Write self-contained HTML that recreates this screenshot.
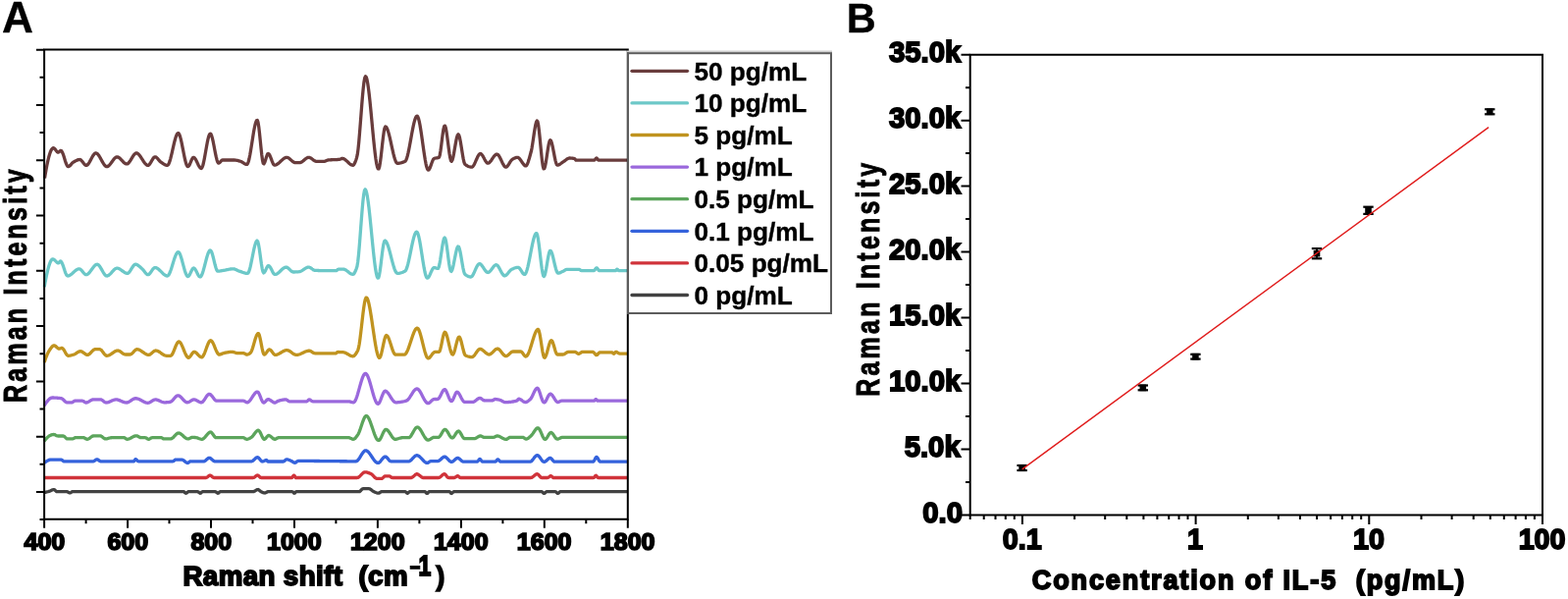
<!DOCTYPE html>
<html><head><meta charset="utf-8"><title>Raman spectra and calibration curve</title>
<style>
html,body{margin:0;padding:0;background:#fff;}
body{width:1598px;height:610px;overflow:hidden;}
svg{display:block;}
text{font-family:'Liberation Sans', Arial, Helvetica, sans-serif;font-weight:bold;fill:#000;white-space:pre;stroke:#000;}
</style></head><body>
<svg width="1598" height="610" viewBox="0 0 1598 610">
<rect x="0" y="0" width="1598" height="610" fill="#fff"/>
<g fill="none" stroke-width="3.3" stroke-linejoin="round" stroke-linecap="butt">
<polyline stroke="#424242" points="45.50,501.50 46.25,501.33 47.00,501.15 47.75,500.96 48.50,500.75 49.25,500.54 50.00,500.31 50.75,500.08 51.50,499.81 52.25,499.46 53.00,499.09 53.75,498.76 54.50,498.55 55.25,498.54 56.00,499.07 56.75,499.87 57.50,500.54 58.25,500.70 59.00,500.70 59.75,500.70 60.50,500.70 61.25,500.70 62.00,500.70 62.75,500.70 63.50,500.70 64.25,500.70 65.00,500.70 65.75,500.70 66.50,500.70 67.25,500.70 68.00,500.70 68.75,500.86 69.50,501.22 70.25,501.61 71.00,501.87 71.75,501.81 72.50,501.40 73.25,500.93 74.00,500.70 74.75,500.70 75.50,500.70 76.25,500.70 77.00,500.70 77.75,500.70 78.50,500.70 79.25,500.70 80.00,500.70 80.75,500.70 81.50,500.70 82.25,500.70 83.00,500.70 83.75,500.70 84.50,500.70 85.25,500.70 86.00,500.70 86.75,500.70 87.50,500.70 88.25,500.70 89.00,500.70 89.75,500.70 90.50,500.70 91.25,500.70 92.00,500.70 92.75,500.70 93.50,500.70 94.25,500.70 95.00,500.70 95.75,500.70 96.50,500.70 97.25,500.70 98.00,500.70 98.75,500.70 99.50,500.70 100.25,500.70 101.00,500.70 101.75,500.70 102.50,500.70 103.25,500.70 104.00,500.70 104.75,500.70 105.50,500.70 106.25,500.70 107.00,500.70 107.75,500.70 108.50,500.70 109.25,500.70 110.00,500.70 110.75,500.70 111.50,500.70 112.25,500.70 113.00,500.70 113.75,500.70 114.50,500.70 115.25,500.70 116.00,500.70 116.75,500.70 117.50,500.70 118.25,500.70 119.00,500.70 119.75,500.70 120.50,500.70 121.25,500.70 122.00,500.70 122.75,500.70 123.50,500.70 124.25,500.70 125.00,500.70 125.75,500.70 126.50,500.70 127.25,500.70 128.00,500.70 128.75,500.70 129.50,500.70 130.25,500.70 131.00,500.70 131.75,500.70 132.50,500.70 133.25,500.70 134.00,500.70 134.75,500.70 135.50,500.70 136.25,500.70 137.00,500.70 137.75,500.70 138.50,500.70 139.25,500.70 140.00,500.70 140.75,500.70 141.50,500.70 142.25,500.70 143.00,500.70 143.75,500.70 144.50,500.70 145.25,500.70 146.00,500.70 146.75,500.70 147.50,500.70 148.25,500.70 149.00,500.70 149.75,500.70 150.50,500.70 151.25,500.70 152.00,500.70 152.75,500.70 153.50,500.70 154.25,500.70 155.00,500.70 155.75,500.70 156.50,500.70 157.25,500.70 158.00,500.70 158.75,500.70 159.50,500.70 160.25,500.70 161.00,500.70 161.75,500.70 162.50,500.70 163.25,500.70 164.00,500.70 164.75,500.70 165.50,500.70 166.25,500.70 167.00,500.70 167.75,500.70 168.50,500.70 169.25,500.70 170.00,500.70 170.75,500.70 171.50,500.70 172.25,500.70 173.00,500.70 173.75,500.70 174.50,500.70 175.25,500.70 176.00,500.70 176.75,500.70 177.50,500.70 178.25,500.70 179.00,500.70 179.75,500.70 180.50,500.70 181.25,500.70 182.00,500.70 182.75,500.70 183.50,500.70 184.25,500.70 185.00,500.70 185.75,500.70 186.50,500.70 187.25,500.74 188.00,501.23 188.75,501.90 189.50,502.29 190.25,502.01 191.00,501.30 191.75,500.75 192.50,500.70 193.25,500.70 194.00,500.70 194.75,500.70 195.50,500.70 196.25,500.70 197.00,500.70 197.75,500.70 198.50,500.70 199.25,500.70 200.00,500.70 200.75,500.70 201.50,500.70 202.25,501.05 203.00,501.74 203.75,502.26 204.50,502.13 205.25,501.50 206.00,500.87 206.75,500.70 207.50,500.70 208.25,500.70 209.00,500.70 209.75,500.70 210.50,500.70 211.25,500.70 212.00,500.70 212.75,500.70 213.50,500.70 214.25,500.70 215.00,500.70 215.75,500.70 216.50,500.70 217.25,500.70 218.00,500.70 218.75,500.70 219.50,500.70 220.25,501.05 221.00,501.74 221.75,502.26 222.50,502.13 223.25,501.50 224.00,500.87 224.75,500.70 225.50,500.70 226.25,500.70 227.00,500.70 227.75,500.70 228.50,500.70 229.25,500.70 230.00,500.70 230.75,500.70 231.50,500.70 232.25,500.70 233.00,500.70 233.75,500.70 234.50,500.70 235.25,500.70 236.00,500.70 236.75,500.70 237.50,500.70 238.25,500.70 239.00,500.70 239.75,500.70 240.50,500.70 241.25,500.70 242.00,500.70 242.75,500.70 243.50,500.70 244.25,500.70 245.00,500.70 245.75,500.70 246.50,500.70 247.25,500.70 248.00,500.70 248.75,500.70 249.50,500.70 250.25,500.70 251.00,500.70 251.75,500.70 252.50,500.70 253.25,500.70 254.00,500.70 254.75,500.70 255.50,500.70 256.25,500.70 257.00,500.70 257.75,500.70 258.50,500.63 259.25,500.33 260.00,499.87 260.75,499.36 261.50,498.90 262.25,498.58 263.00,498.52 263.75,498.88 264.50,499.51 265.25,500.20 266.00,500.70 266.75,501.04 267.50,501.37 268.25,501.66 269.00,501.88 269.75,501.99 270.50,501.90 271.25,501.51 272.00,501.04 272.75,500.73 273.50,500.70 274.25,500.70 275.00,500.70 275.75,500.70 276.50,500.70 277.25,500.70 278.00,500.70 278.75,500.70 279.50,500.70 280.25,500.70 281.00,500.70 281.75,500.70 282.50,500.70 283.25,500.70 284.00,500.70 284.75,500.70 285.50,500.70 286.25,500.70 287.00,500.70 287.75,500.70 288.50,500.70 289.25,500.70 290.00,500.70 290.75,500.70 291.50,500.70 292.25,500.70 293.00,500.70 293.75,500.70 294.50,500.70 295.25,500.70 296.00,500.70 296.75,500.70 297.50,500.70 298.25,500.77 299.00,501.50 299.75,502.23 300.50,502.05 301.25,501.21 302.00,500.70 302.75,500.70 303.50,500.70 304.25,500.70 305.00,500.70 305.75,500.70 306.50,500.70 307.25,500.70 308.00,500.70 308.75,500.70 309.50,500.70 310.25,500.70 311.00,500.70 311.75,500.70 312.50,500.70 313.25,500.70 314.00,500.70 314.75,500.70 315.50,500.70 316.25,500.70 317.00,500.70 317.75,500.70 318.50,500.70 319.25,500.70 320.00,500.70 320.75,500.70 321.50,500.70 322.25,500.70 323.00,500.70 323.75,500.70 324.50,500.70 325.25,500.70 326.00,500.70 326.75,500.70 327.50,500.70 328.25,500.70 329.00,500.70 329.75,500.70 330.50,500.70 331.25,500.70 332.00,500.70 332.75,500.70 333.50,500.70 334.25,500.70 335.00,500.70 335.75,500.70 336.50,500.70 337.25,500.70 338.00,500.70 338.75,500.70 339.50,500.70 340.25,500.70 341.00,500.70 341.75,500.70 342.50,500.70 343.25,500.70 344.00,500.70 344.75,500.70 345.50,500.70 346.25,500.70 347.00,500.70 347.75,500.70 348.50,500.70 349.25,500.70 350.00,500.70 350.75,500.70 351.50,500.70 352.25,500.70 353.00,500.70 353.75,500.70 354.50,500.70 355.25,500.70 356.00,500.70 356.75,500.70 357.50,500.70 358.25,500.70 359.00,500.70 359.75,500.70 360.50,500.70 361.25,500.70 362.00,500.70 362.75,500.70 363.50,500.70 364.25,500.70 365.00,500.70 365.75,500.70 366.50,500.57 367.25,500.00 368.00,499.20 368.75,498.40 369.50,497.83 370.25,497.70 371.00,497.70 371.75,497.70 372.50,497.70 373.25,497.70 374.00,497.70 374.75,497.70 375.50,497.70 376.25,497.72 377.00,497.95 377.75,498.38 378.50,498.94 379.25,499.55 380.00,500.13 380.75,500.59 381.50,500.91 382.25,501.23 383.00,501.54 383.75,501.82 384.50,502.03 385.25,502.17 386.00,502.18 386.75,501.88 387.50,501.38 388.25,500.91 389.00,500.70 389.75,500.70 390.50,500.70 391.25,500.70 392.00,500.70 392.75,500.70 393.50,500.70 394.25,500.70 395.00,500.70 395.75,500.70 396.50,500.70 397.25,500.70 398.00,500.70 398.75,500.70 399.50,500.70 400.25,500.70 401.00,500.70 401.75,500.70 402.50,500.70 403.25,500.70 404.00,500.70 404.75,500.70 405.50,500.70 406.25,500.70 407.00,500.70 407.75,500.70 408.50,500.70 409.25,500.70 410.00,500.70 410.75,500.70 411.50,500.70 412.25,500.70 413.00,500.70 413.75,501.13 414.50,501.92 415.25,502.30 416.00,501.85 416.75,501.10 417.50,500.70 418.25,500.70 419.00,500.70 419.75,500.70 420.50,500.70 421.25,500.70 422.00,500.70 422.75,500.70 423.50,500.70 424.25,500.70 425.00,500.70 425.75,500.70 426.50,500.70 427.25,500.70 428.00,500.70 428.75,500.70 429.50,500.70 430.25,500.70 431.00,500.70 431.75,500.70 432.50,500.70 433.25,500.76 434.00,501.48 434.75,502.30 435.50,502.42 436.25,501.72 437.00,500.92 437.75,500.70 438.50,500.70 439.25,500.70 440.00,500.70 440.75,500.70 441.50,500.70 442.25,500.70 443.00,500.70 443.75,500.70 444.50,500.70 445.25,500.70 446.00,500.70 446.75,500.70 447.50,500.70 448.25,500.70 449.00,500.70 449.75,500.70 450.50,500.70 451.25,500.70 452.00,500.70 452.75,500.70 453.50,500.70 454.25,500.70 455.00,500.70 455.75,500.70 456.50,500.70 457.25,500.70 458.00,500.70 458.75,501.22 459.50,502.14 460.25,502.48 461.00,501.93 461.75,501.12 462.50,500.70 463.25,500.70 464.00,500.70 464.75,500.70 465.50,500.70 466.25,500.70 467.00,500.70 467.75,500.70 468.50,500.70 469.25,500.70 470.00,500.70 470.75,500.70 471.50,500.70 472.25,500.70 473.00,500.70 473.75,500.70 474.50,500.70 475.25,500.70 476.00,500.70 476.75,500.70 477.50,500.70 478.25,500.70 479.00,500.70 479.75,500.70 480.50,500.70 481.25,500.70 482.00,500.70 482.75,500.70 483.50,500.70 484.25,500.70 485.00,500.70 485.75,500.70 486.50,500.70 487.25,500.70 488.00,500.70 488.75,500.70 489.50,500.70 490.25,500.70 491.00,500.70 491.75,500.70 492.50,500.70 493.25,500.70 494.00,500.70 494.75,500.70 495.50,500.70 496.25,500.70 497.00,500.70 497.75,500.70 498.50,500.70 499.25,500.70 500.00,500.70 500.75,500.70 501.50,500.70 502.25,500.70 503.00,500.70 503.75,500.70 504.50,500.70 505.25,500.70 506.00,500.70 506.75,500.70 507.50,500.70 508.25,500.70 509.00,500.70 509.75,500.70 510.50,500.70 511.25,500.70 512.00,500.70 512.75,500.70 513.50,500.70 514.25,500.70 515.00,500.70 515.75,500.70 516.50,500.70 517.25,500.70 518.00,500.70 518.75,500.70 519.50,500.70 520.25,500.70 521.00,500.70 521.75,500.70 522.50,500.70 523.25,500.70 524.00,500.70 524.75,500.70 525.50,500.70 526.25,500.70 527.00,500.70 527.75,500.70 528.50,500.70 529.25,500.70 530.00,500.70 530.75,500.70 531.50,500.70 532.25,500.70 533.00,500.70 533.75,500.70 534.50,500.70 535.25,500.70 536.00,500.70 536.75,500.70 537.50,500.70 538.25,500.70 539.00,500.70 539.75,500.70 540.50,500.70 541.25,500.70 542.00,500.70 542.75,500.70 543.50,500.70 544.25,500.70 545.00,500.70 545.75,500.70 546.50,500.70 547.25,500.70 548.00,500.70 548.75,500.70 549.50,500.70 550.25,500.70 551.00,500.70 551.75,500.70 552.50,500.89 553.25,501.60 554.00,502.31 554.75,502.45 555.50,501.87 556.25,501.09 557.00,500.70 557.75,500.70 558.50,500.70 559.25,500.70 560.00,500.70 560.75,500.70 561.50,500.70 562.25,500.70 563.00,500.70 563.75,500.70 564.50,500.70 565.25,500.70 566.00,500.70 566.75,501.06 567.50,501.81 568.25,502.41 569.00,502.37 569.75,501.66 570.50,500.90 571.25,500.70 572.00,500.70 572.75,500.70 573.50,500.70 574.25,500.70 575.00,500.70 575.75,500.70 576.50,500.70 577.25,500.70 578.00,500.70 578.75,500.70 579.50,500.70 580.25,500.70 581.00,500.70 581.75,500.70 582.50,500.70 583.25,500.70 584.00,500.70 584.75,500.70 585.50,500.70 586.25,500.70 587.00,500.70 587.75,500.70 588.50,500.70 589.25,500.70 590.00,500.70 590.75,500.70 591.50,500.70 592.25,500.70 593.00,500.70 593.75,500.70 594.50,500.70 595.25,500.70 596.00,500.70 596.75,500.70 597.50,500.70 598.25,500.70 599.00,500.70 599.75,500.70 600.50,500.70 601.25,500.70 602.00,500.70 602.75,500.70 603.50,500.70 604.25,500.70 605.00,500.70 605.75,500.70 606.50,500.70 607.25,500.70 608.00,500.70 608.75,500.70 609.50,500.70 610.25,500.70 611.00,500.70 611.75,500.70 612.50,500.70 613.25,500.70 614.00,500.70 614.75,500.70 615.50,500.70 616.25,500.70 617.00,500.70 617.75,500.70 618.50,500.70 619.25,500.70 620.00,500.70 620.75,500.70 621.50,500.70 622.25,500.70 623.00,500.70 623.75,500.70 624.50,500.70 625.25,500.70 626.00,500.70 626.75,500.70 627.50,500.70 628.25,500.70 629.00,500.70 629.75,500.70 630.50,500.70 631.25,500.70 632.00,500.70 632.75,500.70 633.50,500.70 634.25,500.70 635.00,500.70 635.75,500.70 636.50,500.70 637.25,500.70 638.00,500.70 638.75,500.70 639.50,500.70"/>
<polyline stroke="#d0333a" points="45.00,486.50 45.75,486.50 46.50,486.50 47.25,486.50 48.00,486.50 48.75,486.50 49.50,486.50 50.25,486.50 51.00,486.50 51.75,486.50 52.50,486.50 53.25,486.50 54.00,486.50 54.75,486.50 55.50,486.50 56.25,486.50 57.00,486.50 57.75,486.50 58.50,486.50 59.25,486.50 60.00,486.50 60.75,486.50 61.50,486.50 62.25,486.50 63.00,486.50 63.75,486.50 64.50,486.50 65.25,486.50 66.00,486.50 66.75,486.50 67.50,486.50 68.25,486.50 69.00,486.50 69.75,486.50 70.50,486.50 71.25,486.50 72.00,486.50 72.75,486.50 73.50,486.50 74.25,486.50 75.00,486.50 75.75,486.50 76.50,486.50 77.25,486.50 78.00,486.50 78.75,486.50 79.50,486.50 80.25,486.50 81.00,486.50 81.75,486.50 82.50,486.50 83.25,486.50 84.00,486.50 84.75,486.50 85.50,486.50 86.25,486.50 87.00,486.50 87.75,486.50 88.50,486.50 89.25,486.50 90.00,486.50 90.75,486.50 91.50,486.50 92.25,486.50 93.00,486.50 93.75,486.50 94.50,486.50 95.25,486.50 96.00,486.50 96.75,486.50 97.50,486.50 98.25,486.50 99.00,486.50 99.75,486.50 100.50,486.50 101.25,486.50 102.00,486.50 102.75,486.50 103.50,486.50 104.25,486.50 105.00,486.50 105.75,486.50 106.50,486.50 107.25,486.50 108.00,486.50 108.75,486.50 109.50,486.50 110.25,486.50 111.00,486.50 111.75,486.50 112.50,486.50 113.25,486.50 114.00,486.50 114.75,486.50 115.50,486.50 116.25,486.50 117.00,486.50 117.75,486.50 118.50,486.50 119.25,486.50 120.00,486.50 120.75,486.50 121.50,486.50 122.25,486.50 123.00,486.50 123.75,486.50 124.50,486.50 125.25,486.50 126.00,486.50 126.75,486.50 127.50,486.50 128.25,486.50 129.00,486.50 129.75,486.50 130.50,486.50 131.25,486.50 132.00,486.50 132.75,486.50 133.50,486.50 134.25,486.50 135.00,486.50 135.75,486.50 136.50,486.50 137.25,486.50 138.00,486.50 138.75,486.50 139.50,486.50 140.25,486.50 141.00,486.50 141.75,486.50 142.50,486.50 143.25,486.50 144.00,486.50 144.75,486.50 145.50,486.50 146.25,486.50 147.00,486.50 147.75,486.50 148.50,486.50 149.25,486.50 150.00,486.50 150.75,486.50 151.50,486.50 152.25,486.50 153.00,486.50 153.75,486.50 154.50,486.50 155.25,486.50 156.00,486.50 156.75,486.50 157.50,486.50 158.25,486.50 159.00,486.50 159.75,486.50 160.50,486.50 161.25,486.50 162.00,486.50 162.75,486.50 163.50,486.50 164.25,486.50 165.00,486.50 165.75,486.50 166.50,486.50 167.25,486.50 168.00,486.50 168.75,486.50 169.50,486.50 170.25,486.50 171.00,486.50 171.75,486.50 172.50,486.50 173.25,486.50 174.00,486.50 174.75,486.50 175.50,486.50 176.25,486.50 177.00,486.50 177.75,486.50 178.50,486.50 179.25,486.50 180.00,486.50 180.75,486.50 181.50,486.50 182.25,486.50 183.00,486.50 183.75,486.50 184.50,486.50 185.25,486.50 186.00,486.50 186.75,486.50 187.50,486.50 188.25,486.50 189.00,486.50 189.75,486.50 190.50,486.50 191.25,486.50 192.00,486.50 192.75,486.50 193.50,486.50 194.25,486.50 195.00,486.50 195.75,486.50 196.50,486.50 197.25,486.50 198.00,486.50 198.75,486.50 199.50,486.50 200.25,486.50 201.00,486.50 201.75,486.50 202.50,486.50 203.25,486.50 204.00,486.50 204.75,486.50 205.50,486.50 206.25,486.50 207.00,486.50 207.75,486.50 208.50,486.50 209.25,486.50 210.00,486.50 210.75,486.27 211.50,485.71 212.25,485.02 213.00,484.39 213.75,484.03 214.50,484.11 215.25,484.58 216.00,485.25 216.75,485.92 217.50,486.39 218.25,486.50 219.00,486.50 219.75,486.50 220.50,486.50 221.25,486.50 222.00,486.50 222.75,486.50 223.50,486.50 224.25,486.50 225.00,486.50 225.75,486.50 226.50,486.50 227.25,486.50 228.00,486.50 228.75,486.50 229.50,486.50 230.25,486.50 231.00,486.50 231.75,486.50 232.50,486.50 233.25,486.50 234.00,486.50 234.75,486.50 235.50,486.50 236.25,486.50 237.00,486.50 237.75,486.50 238.50,486.50 239.25,486.50 240.00,486.50 240.75,486.50 241.50,486.50 242.25,486.50 243.00,486.50 243.75,486.50 244.50,486.50 245.25,486.50 246.00,486.50 246.75,486.50 247.50,486.50 248.25,486.50 249.00,486.50 249.75,486.50 250.50,486.50 251.25,486.50 252.00,486.50 252.75,486.50 253.50,486.50 254.25,486.50 255.00,486.50 255.75,486.50 256.50,486.50 257.25,486.50 258.00,486.50 258.75,486.31 259.50,485.85 260.25,485.25 261.00,484.65 261.75,484.19 262.50,484.00 263.25,484.30 264.00,484.98 264.75,485.77 265.50,486.36 266.25,486.50 267.00,486.50 267.75,486.50 268.50,486.50 269.25,486.50 270.00,486.50 270.75,486.50 271.50,486.50 272.25,486.50 273.00,486.50 273.75,486.50 274.50,486.50 275.25,486.50 276.00,486.50 276.75,486.50 277.50,486.50 278.25,486.50 279.00,486.50 279.75,486.50 280.50,486.50 281.25,486.50 282.00,486.50 282.75,486.50 283.50,486.50 284.25,486.50 285.00,486.50 285.75,486.50 286.50,486.50 287.25,486.50 288.00,486.50 288.75,486.50 289.50,486.50 290.25,486.50 291.00,486.50 291.75,486.50 292.50,486.50 293.25,486.50 294.00,486.50 294.75,486.50 295.50,486.50 296.25,486.50 297.00,486.50 297.75,486.39 298.50,485.25 299.25,484.11 300.00,484.39 300.75,485.71 301.50,486.50 302.25,486.50 303.00,486.50 303.75,486.50 304.50,486.50 305.25,486.50 306.00,486.50 306.75,486.50 307.50,486.50 308.25,486.50 309.00,486.50 309.75,486.50 310.50,486.50 311.25,486.50 312.00,486.50 312.75,486.50 313.50,486.50 314.25,486.50 315.00,486.50 315.75,486.50 316.50,486.50 317.25,486.50 318.00,486.50 318.75,486.50 319.50,486.50 320.25,486.50 321.00,486.50 321.75,486.50 322.50,486.50 323.25,486.50 324.00,486.50 324.75,486.50 325.50,486.50 326.25,486.50 327.00,486.50 327.75,486.50 328.50,486.50 329.25,486.50 330.00,486.50 330.75,486.50 331.50,486.50 332.25,486.50 333.00,486.50 333.75,486.50 334.50,486.50 335.25,486.50 336.00,486.50 336.75,486.50 337.50,486.50 338.25,486.50 339.00,486.50 339.75,486.50 340.50,486.50 341.25,486.50 342.00,486.50 342.75,486.50 343.50,486.50 344.25,486.50 345.00,486.50 345.75,486.50 346.50,486.50 347.25,486.50 348.00,486.50 348.75,486.50 349.50,486.50 350.25,486.50 351.00,486.50 351.75,486.50 352.50,486.50 353.25,486.50 354.00,486.50 354.75,486.50 355.50,486.50 356.25,486.50 357.00,486.50 357.75,486.50 358.50,486.50 359.25,486.50 360.00,486.50 360.75,486.50 361.50,486.50 362.25,486.50 363.00,486.50 363.75,486.50 364.50,486.44 365.25,486.13 366.00,485.61 366.75,484.94 367.50,484.18 368.25,483.38 369.00,482.60 369.75,481.90 370.50,481.33 371.25,480.94 372.00,480.80 372.75,480.84 373.50,480.95 374.25,481.12 375.00,481.34 375.75,481.59 376.50,481.88 377.25,482.19 378.00,482.50 378.75,482.95 379.50,483.60 380.25,484.39 381.00,485.21 381.75,486.00 382.50,486.67 383.25,487.13 384.00,487.30 384.75,487.30 385.50,487.30 386.25,487.30 387.00,487.30 387.75,487.30 388.50,487.30 389.25,487.27 390.00,486.85 390.75,486.15 391.50,485.42 392.25,484.90 393.00,484.80 393.75,484.80 394.50,484.80 395.25,484.80 396.00,484.80 396.75,484.80 397.50,484.98 398.25,485.65 399.00,486.32 399.75,486.50 400.50,486.50 401.25,486.50 402.00,486.50 402.75,486.50 403.50,486.50 404.25,486.50 405.00,486.50 405.75,486.50 406.50,486.50 407.25,486.50 408.00,486.50 408.75,486.50 409.50,486.50 410.25,486.50 411.00,486.50 411.75,486.50 412.50,486.50 413.25,486.50 414.00,486.50 414.75,486.50 415.50,486.50 416.25,486.50 417.00,486.50 417.75,486.50 418.50,486.50 419.25,486.48 420.00,486.22 420.75,485.72 421.50,485.07 422.25,484.36 423.00,483.69 423.75,483.13 424.50,482.77 425.25,482.72 426.00,483.03 426.75,483.55 427.50,484.15 428.25,484.67 429.00,485.30 429.75,485.94 430.50,486.40 431.25,486.50 432.00,486.50 432.75,486.50 433.50,486.50 434.25,486.50 435.00,486.50 435.75,486.50 436.50,486.50 437.25,486.50 438.00,486.50 438.75,486.50 439.50,486.50 440.25,486.50 441.00,486.50 441.75,486.50 442.50,486.50 443.25,486.50 444.00,486.50 444.75,486.50 445.50,486.50 446.25,486.50 447.00,486.50 447.75,486.34 448.50,485.91 449.25,485.30 450.00,484.60 450.75,483.90 451.50,483.29 452.25,482.86 453.00,482.70 453.75,483.05 454.50,483.90 455.25,484.95 456.00,485.91 456.75,486.46 457.50,486.50 458.25,486.50 459.00,486.50 459.75,486.50 460.50,486.50 461.25,486.50 462.00,486.50 462.75,486.50 463.50,486.39 464.25,485.95 465.00,485.35 465.75,484.82 466.50,484.60 467.25,485.01 468.00,485.83 468.75,486.45 469.50,486.50 470.25,486.50 471.00,486.50 471.75,486.50 472.50,486.50 473.25,486.50 474.00,486.50 474.75,486.50 475.50,486.50 476.25,486.50 477.00,486.50 477.75,486.50 478.50,486.50 479.25,486.50 480.00,486.50 480.75,486.50 481.50,486.50 482.25,486.50 483.00,486.50 483.75,486.50 484.50,486.50 485.25,486.50 486.00,486.50 486.75,486.50 487.50,486.50 488.25,486.50 489.00,486.50 489.75,486.50 490.50,486.50 491.25,486.50 492.00,486.50 492.75,486.50 493.50,486.50 494.25,486.50 495.00,486.50 495.75,486.50 496.50,486.50 497.25,486.50 498.00,486.50 498.75,486.50 499.50,486.50 500.25,486.50 501.00,486.50 501.75,486.50 502.50,486.50 503.25,486.50 504.00,486.50 504.75,486.50 505.50,486.50 506.25,486.50 507.00,486.50 507.75,486.50 508.50,486.50 509.25,486.50 510.00,486.50 510.75,486.50 511.50,486.50 512.25,486.50 513.00,486.50 513.75,486.50 514.50,486.50 515.25,486.50 516.00,486.50 516.75,486.50 517.50,486.50 518.25,486.50 519.00,486.50 519.75,486.50 520.50,486.50 521.25,486.50 522.00,486.50 522.75,486.50 523.50,486.50 524.25,486.50 525.00,486.50 525.75,486.50 526.50,486.50 527.25,486.50 528.00,486.50 528.75,486.50 529.50,486.50 530.25,486.50 531.00,486.50 531.75,486.50 532.50,486.50 533.25,486.50 534.00,486.50 534.75,486.50 535.50,486.50 536.25,486.50 537.00,486.50 537.75,486.50 538.50,486.50 539.25,486.50 540.00,486.50 540.75,486.50 541.50,486.44 542.25,486.13 543.00,485.64 543.75,485.04 544.50,484.38 545.25,483.75 546.00,483.21 546.75,482.84 547.50,482.70 548.25,482.98 549.00,483.69 549.75,484.60 550.50,485.51 551.25,486.22 552.00,486.50 552.75,486.50 553.50,486.50 554.25,486.50 555.00,486.50 555.75,486.50 556.50,486.50 557.25,486.50 558.00,486.50 558.75,486.28 559.50,485.75 560.25,485.15 561.00,484.71 561.75,484.65 562.50,485.27 563.25,486.09 564.00,486.50 564.75,486.50 565.50,486.50 566.25,486.50 567.00,486.50 567.75,486.50 568.50,486.50 569.25,486.50 570.00,486.50 570.75,486.50 571.50,486.50 572.25,486.50 573.00,486.50 573.75,486.50 574.50,486.50 575.25,486.50 576.00,486.50 576.75,486.50 577.50,486.50 578.25,486.50 579.00,486.50 579.75,486.50 580.50,486.50 581.25,486.50 582.00,486.50 582.75,486.50 583.50,486.50 584.25,486.50 585.00,486.50 585.75,486.50 586.50,486.50 587.25,486.50 588.00,486.50 588.75,486.50 589.50,486.50 590.25,486.50 591.00,486.50 591.75,486.50 592.50,486.50 593.25,486.50 594.00,486.50 594.75,486.50 595.50,486.50 596.25,486.50 597.00,486.50 597.75,486.50 598.50,486.50 599.25,486.50 600.00,486.50 600.75,486.50 601.50,486.50 602.25,486.50 603.00,486.50 603.75,486.50 604.50,486.50 605.25,486.42 606.00,485.57 606.75,484.53 607.50,484.25 608.25,485.12 609.00,486.20 609.75,486.50 610.50,486.50 611.25,486.50 612.00,486.50 612.75,486.50 613.50,486.50 614.25,486.50 615.00,486.50 615.75,486.50 616.50,486.50 617.25,486.50 618.00,486.50 618.75,486.50 619.50,486.50 620.25,486.50 621.00,486.50 621.75,486.50 622.50,486.50 623.25,486.50 624.00,486.50 624.75,486.50 625.50,486.50 626.25,486.50 627.00,486.50 627.75,486.50 628.50,486.50 629.25,486.50 630.00,486.50 630.75,486.50 631.50,486.50 632.25,486.50 633.00,486.50 633.75,486.50 634.50,486.50 635.25,486.50 636.00,486.50 636.75,486.50 637.50,486.50 638.25,486.50 639.00,486.50"/>
<polyline stroke="#3462dc" points="45.00,471.30 45.75,470.81 46.50,470.32 47.25,469.84 48.00,469.39 48.75,468.99 49.50,468.64 50.25,468.37 51.00,468.18 51.75,468.10 52.50,468.10 53.25,468.10 54.00,468.10 54.75,468.10 55.50,468.10 56.25,468.10 57.00,468.10 57.75,468.10 58.50,468.10 59.25,468.10 60.00,468.10 60.75,468.10 61.50,468.10 62.25,468.10 63.00,468.28 63.75,468.95 64.50,469.62 65.25,469.80 66.00,469.80 66.75,469.80 67.50,469.80 68.25,469.80 69.00,469.80 69.75,469.80 70.50,469.80 71.25,469.80 72.00,469.80 72.75,469.80 73.50,469.80 74.25,469.80 75.00,469.80 75.75,469.80 76.50,469.80 77.25,469.80 78.00,469.80 78.75,469.80 79.50,469.80 80.25,469.80 81.00,469.80 81.75,469.80 82.50,469.80 83.25,469.80 84.00,469.80 84.75,469.80 85.50,469.80 86.25,469.80 87.00,469.80 87.75,469.80 88.50,469.80 89.25,469.80 90.00,469.80 90.75,469.80 91.50,469.80 92.25,469.80 93.00,469.80 93.75,469.80 94.50,469.80 95.25,469.79 96.00,469.50 96.75,468.96 97.50,468.37 98.25,467.92 99.00,467.82 99.75,468.11 100.50,468.64 101.25,469.22 102.00,469.67 102.75,469.80 103.50,469.80 104.25,469.80 105.00,469.80 105.75,469.80 106.50,469.80 107.25,469.80 108.00,469.80 108.75,469.80 109.50,469.80 110.25,469.80 111.00,469.80 111.75,469.80 112.50,469.80 113.25,469.80 114.00,469.80 114.75,469.80 115.50,469.80 116.25,469.80 117.00,469.80 117.75,469.80 118.50,469.80 119.25,469.80 120.00,469.80 120.75,469.80 121.50,469.80 122.25,469.80 123.00,469.80 123.75,469.80 124.50,469.80 125.25,469.80 126.00,469.80 126.75,469.80 127.50,469.80 128.25,469.80 129.00,469.80 129.75,469.80 130.50,469.80 131.25,469.80 132.00,469.80 132.75,469.80 133.50,469.80 134.25,469.80 135.00,469.80 135.75,469.80 136.50,469.78 137.25,468.75 138.00,467.58 138.75,467.77 139.50,468.65 140.25,469.53 141.00,469.80 141.75,469.80 142.50,469.80 143.25,469.80 144.00,469.80 144.75,469.80 145.50,469.80 146.25,469.80 147.00,469.80 147.75,469.80 148.50,469.80 149.25,469.80 150.00,469.80 150.75,469.80 151.50,469.80 152.25,469.80 153.00,469.80 153.75,469.80 154.50,469.80 155.25,469.80 156.00,469.80 156.75,469.80 157.50,469.80 158.25,469.80 159.00,469.80 159.75,469.80 160.50,469.80 161.25,469.80 162.00,469.80 162.75,469.80 163.50,469.80 164.25,469.80 165.00,469.80 165.75,469.80 166.50,469.80 167.25,469.80 168.00,469.80 168.75,469.80 169.50,469.80 170.25,469.80 171.00,469.80 171.75,469.80 172.50,469.80 173.25,469.80 174.00,469.80 174.75,469.80 175.50,469.80 176.25,469.80 177.00,469.55 177.75,468.85 178.50,468.22 179.25,468.10 180.00,468.10 180.75,468.10 181.50,468.10 182.25,468.10 183.00,468.10 183.75,468.10 184.50,468.10 185.25,468.10 186.00,468.26 186.75,468.63 187.50,469.16 188.25,469.76 189.00,470.37 189.75,470.91 190.50,471.31 191.25,471.49 192.00,471.27 192.75,470.60 193.50,469.96 194.25,469.80 195.00,469.80 195.75,469.80 196.50,469.80 197.25,469.80 198.00,469.80 198.75,469.80 199.50,469.80 200.25,469.80 201.00,469.80 201.75,469.80 202.50,469.80 203.25,469.80 204.00,469.80 204.75,469.80 205.50,469.80 206.25,469.80 207.00,469.80 207.75,469.80 208.50,469.61 209.25,469.14 210.00,468.51 210.75,467.82 211.50,467.15 212.25,466.62 213.00,466.33 213.75,466.36 214.50,466.70 215.25,467.25 216.00,467.91 216.75,468.59 217.50,469.20 218.25,469.63 219.00,469.80 219.75,469.80 220.50,469.80 221.25,469.80 222.00,469.80 222.75,469.80 223.50,469.80 224.25,469.80 225.00,469.80 225.75,469.80 226.50,469.80 227.25,469.80 228.00,469.80 228.75,469.80 229.50,469.80 230.25,469.80 231.00,469.80 231.75,469.80 232.50,469.80 233.25,469.80 234.00,469.80 234.75,469.80 235.50,469.80 236.25,469.80 237.00,469.80 237.75,469.80 238.50,469.80 239.25,469.80 240.00,469.80 240.75,469.80 241.50,469.80 242.25,469.80 243.00,469.80 243.75,469.80 244.50,469.80 245.25,469.80 246.00,469.80 246.75,469.80 247.50,469.80 248.25,469.80 249.00,469.80 249.75,469.80 250.50,469.80 251.25,469.80 252.00,469.80 252.75,469.80 253.50,469.80 254.25,469.80 255.00,469.80 255.75,469.80 256.50,469.79 257.25,469.52 258.00,469.00 258.75,468.31 259.50,467.55 260.25,466.81 261.00,466.19 261.75,465.80 262.50,465.72 263.25,466.08 264.00,466.78 264.75,467.66 265.50,468.58 266.25,469.37 267.00,469.89 267.75,469.98 268.50,469.77 269.25,469.39 270.00,468.97 270.75,468.64 271.50,468.50 272.25,469.25 273.00,470.00 273.75,470.00 274.50,470.00 275.25,470.00 276.00,470.00 276.75,470.00 277.50,470.00 278.25,470.00 279.00,470.00 279.75,470.00 280.50,470.00 281.25,470.00 282.00,470.00 282.75,470.00 283.50,470.00 284.25,470.00 285.00,470.00 285.75,470.00 286.50,470.00 287.25,470.00 288.00,470.00 288.75,470.00 289.50,469.73 290.25,469.05 291.00,468.31 291.75,467.84 292.50,467.83 293.25,467.98 294.00,468.22 294.75,468.50 295.50,468.81 296.25,469.10 297.00,469.50 297.75,469.97 298.50,470.46 299.25,470.89 300.00,471.19 300.75,471.30 301.50,470.99 302.25,470.35 303.00,469.71 303.75,469.40 304.50,469.40 305.25,469.40 306.00,469.40 306.75,469.40 307.50,469.40 308.25,469.41 309.00,469.41 309.75,469.41 310.50,469.41 311.25,469.42 312.00,469.42 312.75,469.42 313.50,469.43 314.25,469.43 315.00,469.44 315.75,469.44 316.50,469.45 317.25,469.45 318.00,469.46 318.75,469.46 319.50,469.47 320.25,469.48 321.00,469.48 321.75,469.49 322.50,469.50 323.25,469.50 324.00,469.51 324.75,469.52 325.50,469.52 326.25,469.53 327.00,469.54 327.75,469.54 328.50,469.55 329.25,469.56 330.00,469.57 330.75,469.57 331.50,469.58 332.25,469.59 333.00,469.60 333.75,469.61 334.50,469.61 335.25,469.62 336.00,469.63 336.75,469.64 337.50,469.64 338.25,469.65 339.00,469.66 339.75,469.67 340.50,469.67 341.25,469.68 342.00,469.69 342.75,469.69 343.50,469.70 344.25,469.71 345.00,469.71 345.75,469.72 346.50,469.73 347.25,469.73 348.00,469.74 348.75,469.74 349.50,469.75 350.25,469.75 351.00,469.76 351.75,469.76 352.50,469.77 353.25,469.77 354.00,469.78 354.75,469.78 355.50,469.78 356.25,469.79 357.00,469.79 357.75,469.79 358.50,469.79 359.25,469.80 360.00,469.80 360.75,469.80 361.50,469.80 362.25,469.80 363.00,469.77 363.75,469.46 364.50,468.86 365.25,468.02 366.00,467.00 366.75,465.85 367.50,464.63 368.25,463.40 369.00,462.20 369.75,461.11 370.50,460.16 371.25,459.43 372.00,458.95 372.75,458.80 373.50,458.95 374.25,459.34 375.00,459.93 375.75,460.70 376.50,461.61 377.25,462.62 378.00,463.71 378.75,464.85 379.50,465.99 380.25,467.10 381.00,468.16 381.75,469.13 382.50,469.98 383.25,470.67 384.00,471.17 384.75,471.45 385.50,471.47 386.25,471.15 387.00,470.56 387.75,469.76 388.50,468.83 389.25,467.86 390.00,466.92 390.75,466.09 391.50,465.45 392.25,465.07 393.00,465.04 393.75,465.44 394.50,466.17 395.25,467.08 396.00,468.04 396.75,468.90 397.50,469.53 398.25,469.80 399.00,469.80 399.75,469.80 400.50,469.80 401.25,469.80 402.00,469.80 402.75,469.80 403.50,469.80 404.25,469.80 405.00,469.80 405.75,469.80 406.50,469.80 407.25,469.80 408.00,469.80 408.75,469.80 409.50,469.80 410.25,469.80 411.00,469.80 411.75,469.80 412.50,469.80 413.25,469.80 414.00,469.80 414.75,469.80 415.50,469.80 416.25,469.80 417.00,469.74 417.75,469.43 418.50,468.91 419.25,468.23 420.00,467.46 420.75,466.64 421.50,465.83 422.25,465.07 423.00,464.44 423.75,463.97 424.50,463.72 425.25,463.74 426.00,463.97 426.75,464.38 427.50,464.94 428.25,465.61 429.00,466.36 429.75,467.16 430.50,467.98 431.25,468.79 432.00,469.54 432.75,470.22 433.50,470.78 434.25,471.21 435.00,471.45 435.75,471.47 436.50,471.12 437.25,470.55 438.00,469.98 438.75,469.63 439.50,469.60 440.25,469.60 441.00,469.60 441.75,469.60 442.50,469.60 443.25,469.60 444.00,469.60 444.75,469.60 445.50,469.60 446.25,469.59 447.00,469.40 447.75,468.97 448.50,468.38 449.25,467.69 450.00,466.97 450.75,466.28 451.50,465.70 452.25,465.28 453.00,465.10 453.75,465.23 454.50,465.65 455.25,466.29 456.00,467.08 456.75,467.92 457.50,468.75 458.25,469.49 459.00,470.05 459.75,470.36 460.50,470.36 461.25,470.06 462.00,469.55 462.75,468.91 463.50,468.21 464.25,467.54 465.00,466.96 465.75,466.55 466.50,466.40 467.25,466.58 468.00,467.05 468.75,467.71 469.50,468.45 470.25,469.16 471.00,469.73 471.75,470.06 472.50,470.10 473.25,470.10 474.00,470.10 474.75,470.10 475.50,470.10 476.25,470.10 477.00,470.10 477.75,470.10 478.50,470.10 479.25,470.10 480.00,470.10 480.75,470.10 481.50,470.10 482.25,470.10 483.00,470.10 483.75,470.10 484.50,470.10 485.25,470.10 486.00,470.10 486.75,469.84 487.50,468.94 488.25,467.96 489.00,467.50 489.75,467.96 490.50,468.94 491.25,469.84 492.00,470.10 492.75,470.10 493.50,470.10 494.25,470.10 495.00,470.10 495.75,470.10 496.50,470.10 497.25,470.10 498.00,470.10 498.75,470.10 499.50,470.10 500.25,470.10 501.00,470.10 501.75,470.10 502.50,470.10 503.25,470.10 504.00,470.10 504.75,470.10 505.50,469.82 506.25,468.80 507.00,467.91 507.75,467.96 508.50,468.71 509.25,469.59 510.00,470.09 510.75,470.10 511.50,470.10 512.25,470.10 513.00,470.10 513.75,470.10 514.50,470.10 515.25,470.10 516.00,470.10 516.75,470.10 517.50,470.10 518.25,470.10 519.00,470.10 519.75,470.10 520.50,470.10 521.25,470.10 522.00,470.10 522.75,470.10 523.50,470.10 524.25,470.10 525.00,470.10 525.75,470.10 526.50,470.10 527.25,470.10 528.00,470.10 528.75,470.10 529.50,470.10 530.25,470.10 531.00,470.10 531.75,470.10 532.50,470.10 533.25,470.10 534.00,470.10 534.75,470.10 535.50,470.10 536.25,470.10 537.00,470.10 537.75,470.10 538.50,470.10 539.25,470.10 540.00,470.10 540.75,470.05 541.50,469.68 542.25,469.01 543.00,468.12 543.75,467.12 544.50,466.10 545.25,465.14 546.00,464.35 546.75,463.80 547.50,463.60 548.25,463.82 549.00,464.40 549.75,465.26 550.50,466.28 551.25,467.36 552.00,468.42 552.75,469.34 553.50,470.02 554.25,470.37 555.00,470.33 555.75,469.99 556.50,469.45 557.25,468.78 558.00,468.07 558.75,467.39 559.50,466.84 560.25,466.49 561.00,466.42 561.75,466.86 562.50,467.68 563.25,468.63 564.00,469.50 564.75,470.03 565.50,470.10 566.25,470.10 567.00,470.10 567.75,470.10 568.50,470.10 569.25,470.10 570.00,470.10 570.75,470.10 571.50,470.10 572.25,470.10 573.00,470.10 573.75,470.10 574.50,470.10 575.25,470.10 576.00,470.10 576.75,470.10 577.50,470.10 578.25,470.10 579.00,470.10 579.75,470.10 580.50,470.10 581.25,470.10 582.00,470.10 582.75,470.10 583.50,470.10 584.25,470.10 585.00,470.10 585.75,470.10 586.50,470.10 587.25,470.10 588.00,470.10 588.75,470.10 589.50,470.10 590.25,470.10 591.00,470.10 591.75,470.10 592.50,470.10 593.25,470.10 594.00,470.10 594.75,470.10 595.50,470.10 596.25,470.10 597.00,470.10 597.75,470.10 598.50,470.10 599.25,470.10 600.00,470.10 600.75,470.10 601.50,470.10 602.25,470.10 603.00,470.10 603.75,470.10 604.50,470.10 605.25,469.55 606.00,468.25 606.75,466.77 607.50,465.66 608.25,465.47 609.00,466.33 609.75,467.75 610.50,469.17 611.25,470.03 612.00,470.10 612.75,470.10 613.50,470.10 614.25,470.10 615.00,470.10 615.75,470.10 616.50,470.10 617.25,470.10 618.00,470.10 618.75,470.10 619.50,470.10 620.25,470.10 621.00,470.10 621.75,470.10 622.50,470.10 623.25,470.10 624.00,470.10 624.75,470.10 625.50,470.10 626.25,470.10 627.00,470.10 627.75,470.10 628.50,470.10 629.25,470.10 630.00,470.10 630.75,470.10 631.50,470.10 632.25,470.10 633.00,470.10 633.75,470.10 634.50,470.10 635.25,470.10 636.00,470.10 636.75,470.10 637.50,470.10 638.25,470.10 639.00,470.10"/>
<polyline stroke="#5ca55c" points="45.00,449.40 45.75,448.34 46.50,447.38 47.25,446.51 48.00,445.74 48.75,445.05 49.50,444.46 50.25,443.94 51.00,443.51 51.75,443.16 52.50,442.89 53.25,442.69 54.00,442.56 54.75,442.50 55.50,442.57 56.25,442.88 57.00,443.31 57.75,443.72 58.50,443.97 59.25,444.00 60.00,444.00 60.75,444.00 61.50,444.00 62.25,444.00 63.00,444.00 63.75,444.00 64.50,444.00 65.25,444.28 66.00,444.87 66.75,445.60 67.50,446.29 68.25,446.78 69.00,446.90 69.75,446.90 70.50,446.90 71.25,446.90 72.00,446.90 72.75,446.90 73.50,446.90 74.25,446.83 75.00,446.50 75.75,446.07 76.50,445.75 77.25,445.70 78.00,445.70 78.75,445.70 79.50,445.70 80.25,445.70 81.00,445.70 81.75,445.70 82.50,445.70 83.25,445.70 84.00,445.70 84.75,445.70 85.50,445.75 86.25,446.07 87.00,446.53 87.75,446.99 88.50,447.27 89.25,447.26 90.00,447.02 90.75,446.62 91.50,446.11 92.25,445.55 93.00,444.99 93.75,444.48 94.50,444.08 95.25,443.84 96.00,443.80 96.75,443.80 97.50,443.80 98.25,443.80 99.00,443.80 99.75,443.80 100.50,443.80 101.25,443.80 102.00,443.80 102.75,443.95 103.50,444.35 104.25,444.90 105.00,445.52 105.75,446.11 106.50,446.59 107.25,446.87 108.00,446.89 108.75,446.79 109.50,446.63 110.25,446.43 111.00,446.21 111.75,446.01 112.50,445.84 113.25,445.73 114.00,445.70 114.75,445.70 115.50,445.70 116.25,445.70 117.00,445.70 117.75,445.70 118.50,445.70 119.25,445.70 120.00,445.70 120.75,445.70 121.50,445.70 122.25,445.70 123.00,445.70 123.75,445.70 124.50,445.70 125.25,445.70 126.00,445.70 126.75,445.76 127.50,446.16 128.25,446.73 129.00,447.19 129.75,447.29 130.50,447.19 131.25,446.98 132.00,446.69 132.75,446.33 133.50,445.94 134.25,445.52 135.00,445.11 135.75,444.72 136.50,444.37 137.25,444.09 138.00,443.89 138.75,443.80 139.50,443.88 140.25,444.14 141.00,444.52 141.75,444.95 142.50,445.34 143.25,445.61 144.00,445.70 144.75,445.70 145.50,445.70 146.25,445.70 147.00,445.70 147.75,445.70 148.50,445.79 149.25,446.19 150.00,446.71 150.75,447.15 151.50,447.30 152.25,447.09 153.00,446.66 153.75,446.18 154.50,445.81 155.25,445.70 156.00,445.70 156.75,445.70 157.50,445.70 158.25,445.70 159.00,445.70 159.75,445.70 160.50,445.70 161.25,445.70 162.00,445.70 162.75,445.70 163.50,445.70 164.25,445.70 165.00,445.82 165.75,446.30 166.50,446.78 167.25,446.90 168.00,446.90 168.75,446.90 169.50,446.90 170.25,446.90 171.00,446.90 171.75,446.90 172.50,446.90 173.25,446.90 174.00,446.90 174.75,446.72 175.50,446.30 176.25,445.70 177.00,444.97 177.75,444.17 178.50,443.35 179.25,442.58 180.00,441.90 180.75,441.38 181.50,441.06 182.25,441.01 183.00,441.19 183.75,441.54 184.50,442.03 185.25,442.63 186.00,443.30 186.75,444.00 187.50,444.70 188.25,445.36 189.00,445.94 189.75,446.42 190.50,446.75 191.25,446.90 192.00,446.84 192.75,446.61 193.50,446.29 194.25,445.93 195.00,445.61 195.75,445.37 196.50,445.30 197.25,445.33 198.00,445.41 198.75,445.51 199.50,445.62 200.25,445.74 201.00,445.93 201.75,446.18 202.50,446.46 203.25,446.74 204.00,446.99 204.75,447.19 205.50,447.29 206.25,447.24 207.00,446.93 207.75,446.38 208.50,445.66 209.25,444.81 210.00,443.90 210.75,442.97 211.50,442.08 212.25,441.28 213.00,440.64 213.75,440.19 214.50,440.00 215.25,440.21 216.00,440.89 216.75,441.88 217.50,443.00 218.25,444.11 219.00,445.03 219.75,445.60 220.50,445.70 221.25,445.70 222.00,445.70 222.75,445.70 223.50,445.70 224.25,445.70 225.00,445.70 225.75,445.70 226.50,445.70 227.25,445.70 228.00,445.70 228.75,445.70 229.50,445.70 230.25,445.70 231.00,445.70 231.75,445.70 232.50,445.70 233.25,445.70 234.00,445.70 234.75,445.70 235.50,445.70 236.25,445.70 237.00,445.70 237.75,445.70 238.50,445.70 239.25,445.70 240.00,445.70 240.75,445.70 241.50,445.70 242.25,445.70 243.00,445.70 243.75,445.70 244.50,445.70 245.25,445.70 246.00,445.70 246.75,445.70 247.50,445.70 248.25,445.71 249.00,446.01 249.75,446.54 250.50,447.05 251.25,447.30 252.00,447.24 252.75,447.06 253.50,446.78 254.25,446.43 255.00,446.04 255.75,445.64 256.50,445.17 257.25,444.46 258.00,443.56 258.75,442.55 259.50,441.50 260.25,440.49 261.00,439.58 261.75,438.84 262.50,438.36 263.25,438.20 264.00,438.62 264.75,439.62 265.50,441.03 266.25,442.64 267.00,444.26 267.75,445.71 268.50,446.78 269.25,447.28 270.00,447.11 270.75,446.45 271.50,445.53 272.25,444.58 273.00,443.83 273.75,443.50 274.50,443.63 275.25,444.01 276.00,444.57 276.75,445.22 277.50,445.89 278.25,446.51 279.00,446.99 279.75,447.27 280.50,447.25 281.25,446.93 282.00,446.47 282.75,446.01 283.50,445.73 284.25,445.70 285.00,445.70 285.75,445.70 286.50,445.70 287.25,445.70 288.00,445.70 288.75,445.70 289.50,445.70 290.25,445.70 291.00,445.70 291.75,445.70 292.50,445.70 293.25,445.70 294.00,445.70 294.75,445.70 295.50,445.70 296.25,445.70 297.00,445.70 297.75,445.70 298.50,445.70 299.25,445.70 300.00,445.70 300.75,445.70 301.50,445.70 302.25,445.70 303.00,445.70 303.75,445.70 304.50,445.70 305.25,445.70 306.00,445.70 306.75,445.70 307.50,445.70 308.25,445.70 309.00,445.70 309.75,445.70 310.50,445.70 311.25,445.70 312.00,445.70 312.75,445.70 313.50,445.70 314.25,445.70 315.00,445.70 315.75,445.70 316.50,445.70 317.25,445.70 318.00,445.70 318.75,445.70 319.50,445.70 320.25,445.70 321.00,445.70 321.75,445.70 322.50,445.70 323.25,445.70 324.00,445.70 324.75,445.70 325.50,445.70 326.25,445.70 327.00,445.70 327.75,445.70 328.50,445.70 329.25,445.70 330.00,445.70 330.75,445.70 331.50,445.70 332.25,445.70 333.00,445.70 333.75,445.70 334.50,445.70 335.25,445.70 336.00,445.70 336.75,445.70 337.50,445.70 338.25,445.70 339.00,445.70 339.75,445.70 340.50,445.70 341.25,445.70 342.00,445.70 342.75,445.70 343.50,445.70 344.25,445.70 345.00,445.70 345.75,445.70 346.50,445.70 347.25,445.70 348.00,445.70 348.75,445.70 349.50,445.70 350.25,445.70 351.00,445.70 351.75,445.70 352.50,445.70 353.25,445.70 354.00,445.70 354.75,445.70 355.50,445.72 356.25,445.88 357.00,446.17 357.75,446.52 358.50,446.87 359.25,447.15 360.00,447.29 360.75,447.19 361.50,446.72 362.25,445.98 363.00,445.04 363.75,444.02 364.50,443.00 365.25,441.77 366.00,440.13 366.75,438.18 367.50,436.02 368.25,433.76 369.00,431.50 369.75,429.33 370.50,427.36 371.25,425.70 372.00,424.43 372.75,423.68 373.50,423.52 374.25,423.91 375.00,424.76 375.75,426.00 376.50,427.58 377.25,429.41 378.00,431.45 378.75,433.61 379.50,435.85 380.25,438.09 381.00,440.27 381.75,442.33 382.50,444.19 383.25,445.80 384.00,447.09 384.75,448.00 385.50,448.46 386.25,448.38 387.00,447.73 387.75,446.62 388.50,445.19 389.25,443.57 390.00,441.90 390.75,440.30 391.50,438.93 392.25,437.90 393.00,437.35 393.75,437.37 394.50,437.75 395.25,438.41 396.00,439.30 396.75,440.35 397.50,441.51 398.25,442.70 399.00,443.87 399.75,444.96 400.50,445.91 401.25,446.66 402.00,447.14 402.75,447.30 403.50,447.25 404.25,447.12 405.00,446.94 405.75,446.72 406.50,446.48 407.25,446.25 408.00,446.03 408.75,445.86 409.50,445.74 410.25,445.70 411.00,445.70 411.75,445.70 412.50,445.70 413.25,445.70 414.00,445.70 414.75,445.70 415.50,445.70 416.25,445.70 417.00,445.60 417.75,445.11 418.50,444.29 419.25,443.22 420.00,441.97 420.75,440.62 421.50,439.26 422.25,437.97 423.00,436.81 423.75,435.88 424.50,435.25 425.25,435.00 426.00,435.16 426.75,435.63 427.50,436.39 428.25,437.36 429.00,438.50 429.75,439.77 430.50,441.10 431.25,442.45 432.00,443.76 432.75,444.99 433.50,446.09 434.25,446.99 435.00,447.66 435.75,448.03 436.50,448.08 437.25,447.89 438.00,447.54 438.75,447.10 439.50,446.60 440.25,446.12 441.00,445.70 441.75,445.41 442.50,445.30 443.25,445.30 444.00,445.30 444.75,445.30 445.50,445.30 446.25,445.30 447.00,445.28 447.75,444.86 448.50,444.02 449.25,442.87 450.00,441.57 450.75,440.24 451.50,439.01 452.25,438.03 453.00,437.43 453.75,437.33 454.50,437.75 455.25,438.56 456.00,439.66 456.75,440.94 457.50,442.27 458.25,443.56 459.00,444.67 459.75,445.51 460.50,445.96 461.25,445.90 462.00,445.35 462.75,444.45 463.50,443.31 464.25,442.09 465.00,440.91 465.75,439.92 466.50,439.23 467.25,439.00 468.00,439.34 468.75,440.17 469.50,441.33 470.25,442.67 471.00,444.02 471.75,445.25 472.50,446.18 473.25,446.66 474.00,446.70 474.75,446.70 475.50,446.70 476.25,446.70 477.00,446.70 477.75,446.70 478.50,446.70 479.25,446.70 480.00,446.70 480.75,446.70 481.50,446.70 482.25,446.70 483.00,446.70 483.75,446.68 484.50,446.47 485.25,446.12 486.00,445.66 486.75,445.17 487.50,444.69 488.25,444.28 489.00,444.00 489.75,443.90 490.50,444.09 491.25,444.48 492.00,444.92 492.75,445.24 493.50,445.30 494.25,445.30 495.00,445.30 495.75,445.30 496.50,445.30 497.25,445.30 498.00,445.30 498.75,445.30 499.50,445.30 500.25,445.30 501.00,445.30 501.75,445.30 502.50,445.30 503.25,445.29 504.00,445.07 504.75,444.66 505.50,444.23 506.25,443.94 507.00,443.92 507.75,444.05 508.50,444.29 509.25,444.60 510.00,444.98 510.75,445.39 511.50,445.82 512.25,446.24 513.00,446.62 513.75,446.96 514.50,447.21 515.25,447.36 516.00,447.39 516.75,447.13 517.50,446.65 518.25,446.09 519.00,445.60 519.75,445.32 520.50,445.30 521.25,445.30 522.00,445.30 522.75,445.30 523.50,445.30 524.25,445.30 525.00,445.30 525.75,445.30 526.50,445.30 527.25,445.30 528.00,445.30 528.75,445.30 529.50,445.30 530.25,445.30 531.00,445.30 531.75,445.30 532.50,445.30 533.25,445.42 534.00,445.86 534.75,446.43 535.50,446.91 536.25,447.10 537.00,446.96 537.75,446.61 538.50,446.11 539.25,445.51 540.00,444.85 540.75,444.21 541.50,443.54 542.25,442.65 543.00,441.61 543.75,440.47 544.50,439.32 545.25,438.22 546.00,437.25 546.75,436.48 547.50,435.97 548.25,435.80 549.00,436.19 549.75,437.15 550.50,438.53 551.25,440.18 552.00,441.96 552.75,443.70 553.50,445.26 554.25,446.50 555.00,447.24 555.75,447.36 556.50,446.88 557.25,445.96 558.00,444.77 558.75,443.46 559.50,442.21 560.25,441.18 561.00,440.54 561.75,440.43 562.50,440.84 563.25,441.63 564.00,442.67 564.75,443.83 565.50,444.98 566.25,445.99 567.00,446.74 567.75,447.09 568.50,447.04 569.25,446.84 570.00,446.53 570.75,446.18 571.50,445.82 572.25,445.53 573.00,445.34 573.75,445.30 574.50,445.30 575.25,445.30 576.00,445.30 576.75,445.30 577.50,445.30 578.25,445.30 579.00,445.30 579.75,445.30 580.50,445.30 581.25,445.30 582.00,445.30 582.75,445.30 583.50,445.30 584.25,445.30 585.00,445.30 585.75,445.30 586.50,445.30 587.25,445.30 588.00,445.30 588.75,445.30 589.50,445.30 590.25,445.30 591.00,445.30 591.75,445.30 592.50,445.30 593.25,445.30 594.00,445.30 594.75,445.30 595.50,445.30 596.25,445.30 597.00,445.30 597.75,445.30 598.50,445.30 599.25,445.30 600.00,445.30 600.75,445.30 601.50,445.30 602.25,445.30 603.00,445.30 603.75,445.30 604.50,445.30 605.25,445.30 606.00,445.30 606.75,445.30 607.50,445.30 608.25,445.30 609.00,445.30 609.75,445.30 610.50,445.30 611.25,445.30 612.00,445.30 612.75,445.30 613.50,445.30 614.25,445.30 615.00,445.30 615.75,445.30 616.50,445.30 617.25,445.30 618.00,445.30 618.75,445.30 619.50,445.30 620.25,445.30 621.00,445.30 621.75,445.30 622.50,445.30 623.25,445.30 624.00,445.30 624.75,445.30 625.50,445.30 626.25,445.30 627.00,445.30 627.75,445.30 628.50,445.30 629.25,445.30 630.00,445.30 630.75,445.30 631.50,445.30 632.25,445.30 633.00,445.30 633.75,445.30 634.50,445.30 635.25,445.30 636.00,445.30 636.75,445.30 637.50,445.30 638.25,445.30 639.00,445.30"/>
<polyline stroke="#9a68dc" points="45.00,413.20 45.75,412.07 46.50,410.95 47.25,409.87 48.00,408.86 48.75,407.92 49.50,407.07 50.25,406.35 51.00,405.76 51.75,405.32 52.50,405.07 53.25,405.00 54.00,405.01 54.75,405.02 55.50,405.05 56.25,405.08 57.00,405.12 57.75,405.18 58.50,405.24 59.25,405.31 60.00,405.38 60.75,405.47 61.50,405.56 62.25,405.66 63.00,405.85 63.75,406.32 64.50,406.98 65.25,407.75 66.00,408.51 66.75,409.18 67.50,409.64 68.25,409.80 69.00,409.80 69.75,409.80 70.50,409.80 71.25,409.80 72.00,409.80 72.75,409.80 73.50,409.76 74.25,409.37 75.00,408.81 75.75,408.33 76.50,408.20 77.25,408.20 78.00,408.20 78.75,408.20 79.50,408.20 80.25,408.20 81.00,408.20 81.75,408.20 82.50,408.20 83.25,408.20 84.00,408.21 84.75,408.48 85.50,408.96 86.25,409.48 87.00,409.88 87.75,410.00 88.50,409.88 89.25,409.62 90.00,409.25 90.75,408.82 91.50,408.36 92.25,407.90 93.00,407.49 93.75,407.17 94.50,406.96 95.25,406.90 96.00,406.90 96.75,406.90 97.50,406.90 98.25,406.90 99.00,406.90 99.75,406.90 100.50,406.90 101.25,406.90 102.00,406.90 102.75,406.91 103.50,407.11 104.25,407.55 105.00,408.12 105.75,408.74 106.50,409.32 107.25,409.76 108.00,409.99 108.75,409.97 109.50,409.86 110.25,409.66 111.00,409.41 111.75,409.11 112.50,408.77 113.25,408.43 114.00,408.08 114.75,407.75 115.50,407.46 116.25,407.21 117.00,407.02 117.75,406.92 118.50,406.91 119.25,406.98 120.00,407.13 120.75,407.34 121.50,407.60 122.25,407.90 123.00,408.21 123.75,408.54 124.50,408.86 125.25,409.16 126.00,409.44 126.75,409.67 127.50,409.85 128.25,409.97 129.00,410.00 129.75,409.90 130.50,409.66 131.25,409.32 132.00,408.89 132.75,408.40 133.50,407.88 134.25,407.37 135.00,406.88 135.75,406.44 136.50,406.08 137.25,405.83 138.00,405.71 138.75,405.73 139.50,405.84 140.25,406.03 141.00,406.28 141.75,406.59 142.50,406.94 143.25,407.32 144.00,407.73 144.75,408.14 145.50,408.54 146.25,408.93 147.00,409.30 147.75,409.62 148.50,409.90 149.25,410.11 150.00,410.25 150.75,410.30 151.50,410.22 152.25,409.97 153.00,409.59 153.75,409.14 154.50,408.63 155.25,408.13 156.00,407.66 156.75,407.28 157.50,407.01 158.25,406.90 159.00,406.95 159.75,407.09 160.50,407.30 161.25,407.58 162.00,407.89 162.75,408.23 163.50,408.58 164.25,408.91 165.00,409.22 165.75,409.48 166.50,409.67 167.25,409.78 168.00,409.80 168.75,409.78 169.50,409.75 170.25,409.71 171.00,409.65 171.75,409.58 172.50,409.50 173.25,409.41 174.00,409.19 174.75,408.72 175.50,408.06 176.25,407.26 177.00,406.39 177.75,405.50 178.50,404.65 179.25,403.90 180.00,403.30 180.75,402.91 181.50,402.80 182.25,402.96 183.00,403.34 183.75,403.89 184.50,404.58 185.25,405.36 186.00,406.19 186.75,407.02 187.50,407.82 188.25,408.53 189.00,409.13 189.75,409.56 190.50,409.78 191.25,409.76 192.00,409.57 192.75,409.24 193.50,408.82 194.25,408.35 195.00,407.88 195.75,407.46 196.50,407.13 197.25,406.94 198.00,406.91 198.75,407.05 199.50,407.32 200.25,407.68 201.00,408.09 201.75,408.52 202.50,408.94 203.25,409.31 204.00,409.60 204.75,409.77 205.50,409.77 206.25,409.41 207.00,408.73 207.75,407.80 208.50,406.72 209.25,405.55 210.00,404.38 210.75,403.30 211.50,402.37 212.25,401.69 213.00,401.33 213.75,401.37 214.50,401.77 215.25,402.46 216.00,403.34 216.75,404.34 217.50,405.37 218.25,406.35 219.00,407.20 219.75,407.83 220.50,408.17 221.25,408.20 222.00,408.20 222.75,408.20 223.50,408.20 224.25,408.20 225.00,408.20 225.75,408.20 226.50,408.20 227.25,408.20 228.00,408.20 228.75,408.20 229.50,408.20 230.25,408.20 231.00,408.20 231.75,408.20 232.50,408.20 233.25,408.20 234.00,408.20 234.75,408.20 235.50,408.20 236.25,408.20 237.00,408.20 237.75,408.20 238.50,408.20 239.25,408.20 240.00,408.20 240.75,408.20 241.50,408.20 242.25,408.20 243.00,408.20 243.75,408.20 244.50,408.20 245.25,408.20 246.00,408.20 246.75,408.20 247.50,408.20 248.25,408.21 249.00,408.43 249.75,408.84 250.50,409.31 251.25,409.68 252.00,409.80 252.75,409.60 253.50,409.11 254.25,408.39 255.00,407.49 255.75,406.46 256.50,405.33 257.25,404.17 258.00,403.01 258.75,401.92 259.50,400.93 260.25,400.09 261.00,399.46 261.75,399.09 262.50,399.03 263.25,399.64 264.00,400.88 264.75,402.54 265.50,404.42 266.25,406.32 267.00,408.02 267.75,409.32 268.50,410.03 269.25,410.00 270.00,409.46 270.75,408.65 271.50,407.76 272.25,407.02 273.00,406.62 273.75,406.66 274.50,406.93 275.25,407.34 276.00,407.86 276.75,408.43 277.50,408.98 278.25,409.48 279.00,409.86 279.75,410.07 280.50,410.05 281.25,409.73 282.00,409.24 282.75,408.72 283.50,408.30 284.25,408.08 285.00,407.88 285.75,407.69 286.50,407.51 287.25,407.35 288.00,407.21 288.75,407.09 289.50,407.00 290.25,406.93 291.00,406.90 291.75,406.98 292.50,407.37 293.25,407.93 294.00,408.46 294.75,408.78 295.50,408.80 296.25,408.80 297.00,408.80 297.75,408.80 298.50,408.80 299.25,408.80 300.00,408.80 300.75,408.80 301.50,408.80 302.25,408.80 303.00,408.80 303.75,408.80 304.50,408.80 305.25,408.80 306.00,408.80 306.75,408.80 307.50,408.80 308.25,408.80 309.00,408.80 309.75,408.80 310.50,408.80 311.25,408.80 312.00,408.80 312.75,408.78 313.50,408.24 314.25,407.41 315.00,406.91 315.75,407.05 316.50,407.48 317.25,408.04 318.00,408.53 318.75,408.79 319.50,408.80 320.25,408.80 321.00,408.80 321.75,408.80 322.50,408.80 323.25,408.80 324.00,408.80 324.75,408.80 325.50,408.80 326.25,408.80 327.00,408.80 327.75,408.80 328.50,408.80 329.25,408.80 330.00,408.80 330.75,408.80 331.50,408.80 332.25,408.80 333.00,408.80 333.75,408.80 334.50,408.80 335.25,408.80 336.00,408.80 336.75,408.80 337.50,408.80 338.25,408.80 339.00,408.80 339.75,408.80 340.50,408.80 341.25,408.80 342.00,408.80 342.75,408.80 343.50,408.80 344.25,408.80 345.00,408.80 345.75,408.80 346.50,408.80 347.25,408.80 348.00,408.80 348.75,408.80 349.50,408.80 350.25,408.80 351.00,408.80 351.75,408.80 352.50,408.80 353.25,408.80 354.00,408.80 354.75,408.80 355.50,408.81 356.25,408.91 357.00,409.10 357.75,409.31 358.50,409.53 359.25,409.71 360.00,409.80 360.75,409.63 361.50,408.87 362.25,407.58 363.00,405.85 363.75,403.76 364.50,401.39 365.25,398.82 366.00,396.14 366.75,393.42 367.50,390.75 368.25,388.22 369.00,385.90 369.75,383.87 370.50,382.22 371.25,381.04 372.00,380.39 372.75,380.37 373.50,380.95 374.25,382.06 375.00,383.62 375.75,385.56 376.50,387.80 377.25,390.28 378.00,392.91 378.75,395.62 379.50,398.33 380.25,400.98 381.00,403.48 381.75,405.76 382.50,407.74 383.25,409.36 384.00,410.53 384.75,411.19 385.50,411.24 386.25,410.56 387.00,409.30 387.75,407.62 388.50,405.69 389.25,403.68 390.00,401.76 390.75,400.10 391.50,398.87 392.25,398.25 393.00,398.27 393.75,398.63 394.50,399.25 395.25,400.07 396.00,401.07 396.75,402.18 397.50,403.36 398.25,404.56 399.00,405.75 399.75,406.86 400.50,407.87 401.25,408.70 402.00,409.34 402.75,409.71 403.50,409.80 404.25,409.78 405.00,409.75 405.75,409.70 406.50,409.63 407.25,409.55 408.00,409.45 408.75,409.34 409.50,409.21 410.25,409.07 411.00,408.92 411.75,408.75 412.50,408.58 413.25,408.39 414.00,408.20 414.75,407.86 415.50,407.27 416.25,406.47 417.00,405.50 417.75,404.41 418.50,403.23 419.25,402.02 420.00,400.80 420.75,399.63 421.50,398.55 422.25,397.60 423.00,396.82 423.75,396.25 424.50,395.94 425.25,395.94 426.00,396.29 426.75,396.96 427.50,397.89 428.25,399.03 429.00,400.33 429.75,401.74 430.50,403.20 431.25,404.67 432.00,406.09 432.75,407.40 433.50,408.57 434.25,409.53 435.00,410.23 435.75,410.63 436.50,410.67 437.25,410.39 438.00,409.87 438.75,409.19 439.50,408.45 440.25,407.72 441.00,407.10 441.75,406.66 442.50,406.50 443.25,406.50 444.00,406.50 444.75,406.50 445.50,406.50 446.25,406.46 447.00,405.97 447.75,404.99 448.50,403.68 449.25,402.18 450.00,400.61 450.75,399.14 451.50,397.88 452.25,396.99 453.00,396.61 453.75,396.89 454.50,397.85 455.25,399.30 456.00,401.07 456.75,402.99 457.50,404.86 458.25,406.53 459.00,407.80 459.75,408.51 460.50,408.47 461.25,407.61 462.00,406.16 462.75,404.39 463.50,402.56 464.25,400.91 465.00,399.70 465.75,399.20 466.50,399.44 467.25,400.14 468.00,401.20 468.75,402.51 469.50,403.96 470.25,405.42 471.00,406.80 471.75,407.97 472.50,408.83 473.25,409.27 474.00,409.30 474.75,409.30 475.50,409.30 476.25,409.30 477.00,409.30 477.75,409.30 478.50,409.30 479.25,409.30 480.00,409.30 480.75,409.30 481.50,409.30 482.25,409.29 483.00,409.08 483.75,408.69 484.50,408.16 485.25,407.56 486.00,406.93 486.75,406.35 487.50,405.86 488.25,405.52 489.00,405.40 489.75,405.56 490.50,405.96 491.25,406.50 492.00,407.06 492.75,407.55 493.50,407.85 494.25,407.90 495.00,407.90 495.75,407.90 496.50,407.90 497.25,407.90 498.00,407.90 498.75,407.90 499.50,407.90 500.25,407.90 501.00,407.90 501.75,407.87 502.50,407.54 503.25,407.03 504.00,406.60 504.75,406.50 505.50,406.55 506.25,406.64 507.00,406.77 507.75,406.93 508.50,407.09 509.25,407.26 510.00,407.52 510.75,407.87 511.50,408.27 512.25,408.67 513.00,409.05 513.75,409.35 514.50,409.55 515.25,409.60 516.00,409.59 516.75,409.58 517.50,409.55 518.25,409.51 519.00,409.46 519.75,409.40 520.50,409.32 521.25,409.23 522.00,409.12 522.75,409.00 523.50,408.87 524.25,408.71 525.00,408.54 525.75,408.35 526.50,408.15 527.25,407.81 528.00,406.63 528.75,406.21 529.50,406.39 530.25,406.73 531.00,407.19 531.75,407.72 532.50,408.26 533.25,408.77 534.00,409.20 534.75,409.49 535.50,409.60 536.25,409.50 537.00,409.21 537.75,408.77 538.50,408.22 539.25,407.60 540.00,406.94 540.75,406.25 541.50,405.23 542.25,403.87 543.00,402.30 543.75,400.64 544.50,399.01 545.25,397.52 546.00,396.31 546.75,395.50 547.50,395.20 548.25,395.67 549.00,396.95 549.75,398.80 550.50,401.03 551.25,403.39 552.00,405.69 552.75,407.69 553.50,409.18 554.25,409.94 555.00,409.84 555.75,409.09 556.50,407.88 557.25,406.39 558.00,404.81 558.75,403.31 559.50,402.08 560.25,401.29 561.00,401.12 561.75,401.45 562.50,402.14 563.25,403.09 564.00,404.22 564.75,405.43 565.50,406.64 566.25,407.75 567.00,408.67 567.75,409.32 568.50,409.60 569.25,409.47 570.00,409.11 570.75,408.66 571.50,408.31 572.25,408.20 573.00,408.20 573.75,408.20 574.50,408.20 575.25,408.20 576.00,408.20 576.75,408.20 577.50,408.20 578.25,408.20 579.00,408.20 579.75,408.20 580.50,408.20 581.25,408.20 582.00,408.20 582.75,408.20 583.50,408.20 584.25,408.20 585.00,408.20 585.75,408.20 586.50,408.20 587.25,408.20 588.00,408.20 588.75,408.20 589.50,408.20 590.25,408.20 591.00,408.20 591.75,408.20 592.50,408.20 593.25,408.20 594.00,408.20 594.75,408.20 595.50,408.20 596.25,408.20 597.00,408.20 597.75,408.20 598.50,408.20 599.25,408.20 600.00,408.20 600.75,408.20 601.50,408.20 602.25,408.20 603.00,408.20 603.75,408.20 604.50,408.20 605.25,408.20 606.00,407.88 606.75,406.88 607.50,406.57 608.25,407.50 609.00,408.20 609.75,408.20 610.50,408.20 611.25,408.20 612.00,408.20 612.75,408.20 613.50,408.20 614.25,408.20 615.00,408.20 615.75,408.20 616.50,408.20 617.25,408.20 618.00,408.20 618.75,408.20 619.50,408.20 620.25,408.20 621.00,408.20 621.75,408.20 622.50,408.20 623.25,408.20 624.00,408.20 624.75,408.20 625.50,408.20 626.25,408.20 627.00,408.20 627.75,408.20 628.50,408.20 629.25,408.20 630.00,408.20 630.75,408.20 631.50,408.20 632.25,408.20 633.00,408.20 633.75,408.20 634.50,408.20 635.25,408.20 636.00,408.20 636.75,408.20 637.50,408.20 638.25,408.20 639.00,408.20"/>
<polyline stroke="#c0931f" points="45.20,368.90 45.95,366.66 46.70,364.54 47.45,362.56 48.20,360.76 48.95,359.19 49.70,357.86 50.45,356.68 51.20,355.51 51.95,354.40 52.70,353.42 53.45,352.61 54.20,352.06 54.95,351.81 55.70,351.92 56.45,352.35 57.20,352.98 57.95,353.69 58.70,354.35 59.45,354.86 60.20,355.10 60.95,355.00 61.70,354.73 62.45,354.48 63.20,354.42 63.95,354.86 64.70,355.74 65.45,356.92 66.20,358.26 66.95,359.61 67.70,360.82 68.45,361.75 69.20,362.25 69.95,362.29 70.70,362.22 71.45,362.10 72.20,361.94 72.95,361.74 73.70,361.52 74.45,361.29 75.20,361.06 75.95,360.79 76.70,360.41 77.45,359.95 78.20,359.44 78.95,358.93 79.70,358.46 80.45,358.08 81.20,357.81 81.95,357.70 82.70,357.80 83.45,358.09 84.20,358.53 84.95,359.05 85.70,359.63 86.45,360.19 87.20,360.70 87.95,361.10 88.70,361.35 89.45,361.38 90.20,361.14 90.95,360.67 91.70,360.02 92.45,359.26 93.20,358.44 93.95,357.63 94.70,356.89 95.45,356.29 96.20,355.87 96.95,355.70 97.70,355.70 98.45,355.70 99.20,355.70 99.95,355.70 100.70,355.70 101.45,355.70 102.20,355.83 102.95,356.29 103.70,357.02 104.45,357.93 105.20,358.93 105.95,359.94 106.70,360.86 107.45,361.62 108.20,362.13 108.95,362.30 109.70,362.22 110.45,362.02 111.20,361.71 111.95,361.32 112.70,360.86 113.45,360.36 114.20,359.83 114.95,359.29 115.70,358.77 116.45,358.28 117.20,357.84 117.95,357.48 118.70,357.20 119.45,357.04 120.20,357.01 120.95,357.16 121.70,357.48 122.45,357.92 123.20,358.44 123.95,359.00 124.70,359.56 125.45,360.08 126.20,360.52 126.95,360.84 127.70,360.99 128.45,361.00 129.20,361.00 129.95,361.00 130.70,361.00 131.45,361.00 132.20,361.00 132.95,360.94 133.70,360.61 134.45,360.04 135.20,359.32 135.95,358.52 136.70,357.69 137.45,356.93 138.20,356.29 138.95,355.86 139.70,355.70 140.45,355.77 141.20,355.95 141.95,356.24 142.70,356.62 143.45,357.06 144.20,357.55 144.95,358.08 145.70,358.62 146.45,359.16 147.20,359.68 147.95,360.16 148.70,360.59 149.45,360.94 150.20,361.21 150.95,361.36 151.70,361.39 152.45,361.19 153.20,360.78 153.95,360.22 154.70,359.57 155.45,358.88 156.20,358.22 156.95,357.65 157.70,357.23 158.45,357.02 159.20,357.03 159.95,357.19 160.70,357.45 161.45,357.81 162.20,358.25 162.95,358.74 163.70,359.26 164.45,359.79 165.20,360.32 165.95,360.83 166.70,361.29 167.45,361.69 168.20,362.00 168.95,362.21 169.70,362.30 170.45,362.30 171.20,362.30 171.95,362.30 172.70,362.30 173.45,362.30 174.20,362.21 174.95,361.58 175.70,360.46 176.45,358.97 177.20,357.23 177.95,355.35 178.70,353.46 179.45,351.67 180.20,350.10 180.95,348.87 181.70,348.11 182.45,347.91 183.20,348.29 183.95,349.14 184.70,350.37 185.45,351.89 186.20,353.62 186.95,355.47 187.70,357.35 188.45,359.17 189.20,360.84 189.95,362.28 190.70,363.39 191.45,364.09 192.20,364.29 192.95,363.95 193.70,363.18 194.45,362.14 195.20,360.99 195.95,359.88 196.70,358.96 197.45,358.40 198.20,358.33 198.95,358.59 199.70,359.08 200.45,359.74 201.20,360.51 201.95,361.32 202.70,362.11 203.45,362.82 204.20,363.37 204.95,363.72 205.70,363.78 206.45,363.29 207.20,362.26 207.95,360.81 208.70,359.03 209.45,357.05 210.20,354.97 210.95,352.91 211.70,350.97 212.45,349.27 213.20,347.92 213.95,347.02 214.70,346.70 215.45,347.00 216.20,347.84 216.95,349.09 217.70,350.66 218.45,352.42 219.20,354.27 219.95,356.10 220.70,357.80 221.45,359.25 222.20,360.35 222.95,360.99 223.70,361.09 224.45,360.94 225.20,360.68 225.95,360.36 226.70,360.04 227.45,359.75 228.20,359.56 228.95,359.39 229.70,359.23 230.45,359.07 231.20,358.92 231.95,358.78 232.70,358.65 233.45,358.54 234.20,358.44 234.95,358.37 235.70,358.32 236.45,358.30 237.20,358.35 237.95,358.52 238.70,358.76 239.45,359.04 240.20,359.31 240.95,359.51 241.70,359.60 242.45,359.60 243.20,359.60 243.95,359.60 244.70,359.60 245.45,359.60 246.20,359.60 246.95,359.60 247.70,359.60 248.45,359.66 249.20,359.99 249.95,360.44 250.70,360.87 251.45,361.09 252.20,361.04 252.95,360.80 253.70,360.43 254.45,359.97 255.20,359.43 255.95,358.35 256.70,356.64 257.45,354.47 258.20,351.99 258.95,349.38 259.70,346.78 260.45,344.35 261.20,342.25 261.95,340.65 262.70,339.70 263.45,339.61 264.20,341.05 264.95,343.81 265.70,347.41 266.45,351.36 267.20,355.18 267.95,358.39 268.70,360.51 269.45,361.09 270.20,360.70 270.95,359.90 271.70,358.87 272.45,357.77 273.20,356.80 273.95,356.12 274.70,355.90 275.45,356.21 276.20,356.89 276.95,357.82 277.70,358.86 278.45,359.87 279.20,360.72 279.95,361.27 280.70,361.40 281.45,361.31 282.20,361.13 282.95,360.87 283.70,360.53 284.45,360.15 285.20,359.72 285.95,359.27 286.70,358.82 287.45,358.37 288.20,357.94 288.95,357.54 289.70,357.20 290.45,356.92 291.20,356.72 291.95,356.61 292.70,356.62 293.45,356.78 294.20,357.07 294.95,357.46 295.70,357.93 296.45,358.45 297.20,359.00 297.95,359.55 298.70,360.07 299.45,360.54 300.20,360.93 300.95,361.22 301.70,361.38 302.45,361.39 303.20,361.32 303.95,361.17 304.70,360.97 305.45,360.72 306.20,360.42 306.95,360.10 307.70,359.75 308.45,359.40 309.20,359.04 309.95,358.68 310.70,358.35 311.45,358.04 312.20,357.76 312.95,357.53 313.70,357.35 314.45,357.24 315.20,357.20 315.95,357.32 316.70,357.62 317.45,358.05 318.20,358.53 318.95,359.02 319.70,359.43 320.45,359.71 321.20,359.80 321.95,359.80 322.70,359.80 323.45,359.80 324.20,359.80 324.95,359.80 325.70,359.80 326.45,359.80 327.20,359.80 327.95,359.80 328.70,359.80 329.45,359.80 330.20,359.80 330.95,359.80 331.70,359.80 332.45,359.80 333.20,359.80 333.95,359.80 334.70,359.80 335.45,359.80 336.20,359.80 336.95,359.80 337.70,359.80 338.45,359.80 339.20,359.80 339.95,359.80 340.70,359.80 341.45,359.80 342.20,359.79 342.95,359.30 343.70,358.64 344.45,358.50 345.20,358.51 345.95,358.53 346.70,358.55 347.45,358.58 348.20,358.61 348.95,358.65 349.70,358.69 350.45,358.78 351.20,358.98 351.95,359.28 352.70,359.64 353.45,360.05 354.20,360.49 354.95,360.95 355.70,361.39 356.45,361.81 357.20,362.18 357.95,362.48 358.70,362.69 359.45,362.79 360.20,362.72 360.95,362.30 361.70,361.59 362.45,360.64 363.20,359.49 363.95,358.19 364.70,356.80 365.45,354.26 366.20,350.20 366.95,344.97 367.70,338.92 368.45,332.40 369.20,325.76 369.95,319.37 370.70,313.57 371.45,308.71 372.20,305.14 372.95,303.23 373.70,303.16 374.45,304.28 375.20,306.35 375.95,309.25 376.70,312.85 377.45,317.02 378.20,321.63 378.95,326.54 379.70,331.64 380.45,336.79 381.20,341.86 381.95,346.72 382.70,351.25 383.45,355.32 384.20,358.79 384.95,361.53 385.70,363.43 386.45,364.34 387.20,364.08 387.95,362.52 388.70,359.97 389.45,356.75 390.20,353.19 390.95,349.61 391.70,346.32 392.45,343.67 393.20,341.96 393.95,341.52 394.70,342.02 395.45,343.13 396.20,344.74 396.95,346.72 397.70,348.95 398.45,351.30 399.20,353.65 399.95,355.88 400.70,357.86 401.45,359.47 402.20,360.58 402.95,361.08 403.70,361.10 404.45,361.10 405.20,361.10 405.95,361.10 406.70,361.10 407.45,361.10 408.20,361.10 408.95,361.10 409.70,361.10 410.45,361.10 411.20,361.10 411.95,361.10 412.70,360.94 413.45,360.30 414.20,359.24 414.95,357.82 415.70,356.10 416.45,354.15 417.20,352.01 417.95,349.76 418.70,347.45 419.45,345.14 420.20,342.90 420.95,340.78 421.70,338.85 422.45,337.17 423.20,335.80 423.95,334.79 424.70,334.21 425.45,334.15 426.20,334.79 426.95,336.12 427.70,338.02 428.45,340.38 429.20,343.08 429.95,346.02 430.70,349.09 431.45,352.17 432.20,355.15 432.95,357.93 433.70,360.39 434.45,362.42 435.20,363.92 435.95,364.75 436.70,364.86 437.45,364.49 438.20,363.80 438.95,362.89 439.70,361.86 440.45,360.81 441.20,359.84 441.95,359.05 442.70,358.54 443.45,358.40 444.20,358.40 444.95,358.40 445.70,358.40 446.45,358.40 447.20,358.40 447.95,357.92 448.70,355.97 449.45,352.94 450.20,349.31 450.95,345.55 451.70,342.15 452.45,339.56 453.20,338.27 453.95,338.52 454.70,339.86 455.45,342.03 456.20,344.79 456.95,347.92 457.70,351.17 458.45,354.31 459.20,357.11 459.95,359.32 460.70,360.72 461.45,361.07 462.20,360.19 462.95,358.29 463.70,355.69 464.45,352.71 465.20,349.67 465.95,346.89 466.70,344.67 467.45,343.34 468.20,343.21 468.95,344.36 469.70,346.48 470.45,349.27 471.20,352.40 471.95,355.54 472.70,358.38 473.45,360.60 474.20,361.86 474.95,362.24 475.70,362.54 476.45,362.80 477.20,363.04 477.95,363.23 478.70,363.39 479.45,363.50 480.20,363.57 480.95,363.60 481.70,363.43 482.45,362.92 483.20,362.15 483.95,361.18 484.70,360.10 485.45,358.98 486.20,357.89 486.95,356.91 487.70,356.12 488.45,355.59 489.20,355.40 489.95,355.50 490.70,355.79 491.45,356.22 492.20,356.77 492.95,357.40 493.70,358.06 494.45,358.74 495.20,359.39 495.95,359.97 496.70,360.45 497.45,360.80 498.20,360.98 498.95,360.95 499.70,360.68 500.45,360.21 501.20,359.59 501.95,358.87 502.70,358.10 503.45,357.33 504.20,356.60 504.95,355.96 505.70,355.47 506.45,355.17 507.20,355.11 507.95,355.36 508.70,355.87 509.45,356.60 510.20,357.47 510.95,358.44 511.70,359.43 512.45,360.39 513.20,361.25 513.95,361.97 514.70,362.47 515.45,362.69 516.20,362.61 516.95,362.27 517.70,361.73 518.45,361.07 519.20,360.35 519.95,359.63 520.70,358.97 521.45,358.43 522.20,358.09 522.95,358.00 523.70,358.00 524.45,358.00 525.20,358.00 525.95,358.00 526.70,358.00 527.45,358.00 528.20,358.00 528.95,358.00 529.70,358.00 530.45,358.00 531.20,358.13 531.95,358.73 532.70,359.65 533.45,360.72 534.20,361.75 534.95,362.56 535.70,362.98 536.45,362.84 537.20,362.17 537.95,361.02 538.70,359.47 539.45,357.59 540.20,355.45 540.95,353.13 541.70,350.69 542.45,348.21 543.20,345.76 543.95,343.40 544.70,341.22 545.45,339.29 546.20,337.66 546.95,336.43 547.70,335.65 548.45,335.41 549.20,336.61 549.95,339.55 550.70,343.69 551.45,348.52 552.20,353.48 552.95,358.06 553.70,361.71 554.45,363.90 555.20,364.21 555.95,363.22 556.70,361.39 557.45,358.96 558.20,356.21 558.95,353.38 559.70,350.75 560.45,348.56 561.20,347.10 561.95,346.60 562.70,347.28 563.45,348.92 564.20,351.20 564.95,353.80 565.70,356.40 566.45,358.68 567.20,360.32 567.95,361.00 568.70,361.00 569.45,361.00 570.20,361.00 570.95,361.00 571.70,361.00 572.45,361.00 573.20,361.00 573.95,361.00 574.70,360.84 575.45,360.46 576.20,359.96 576.95,359.41 577.70,358.91 578.45,358.54 579.20,358.40 579.95,358.40 580.70,358.40 581.45,358.40 582.20,358.40 582.95,358.40 583.70,358.40 584.45,358.40 585.20,358.40 585.95,358.40 586.70,358.58 587.45,359.05 588.20,359.62 588.95,360.10 589.70,360.30 590.45,360.12 591.20,359.67 591.95,359.13 592.70,358.66 593.45,358.41 594.20,358.40 594.95,358.40 595.70,358.40 596.45,358.40 597.20,358.40 597.95,358.40 598.70,358.40 599.45,358.40 600.20,358.40 600.95,358.40 601.70,358.40 602.45,358.40 603.20,358.40 603.95,358.40 604.70,358.60 605.45,359.28 606.20,360.18 606.95,361.03 607.70,361.55 608.45,361.46 609.20,360.76 609.95,359.82 610.70,359.04 611.45,358.80 612.20,358.80 612.95,358.80 613.70,358.80 614.45,358.80 615.20,358.80 615.95,358.80 616.70,358.80 617.45,358.80 618.20,358.80 618.95,358.80 619.70,358.80 620.45,358.80 621.20,358.80 621.95,358.80 622.70,358.80 623.45,358.80 624.20,359.01 624.95,359.93 625.70,360.26 626.45,359.54 627.20,358.65 627.95,358.42 628.70,358.68 629.45,359.12 630.20,359.60 630.95,359.97 631.70,360.10 632.45,360.10 633.20,360.10 633.95,360.10 634.70,360.10 635.45,360.10 636.20,360.10 636.95,360.10 637.70,360.10 638.45,360.10 639.20,360.10 639.50,360.10"/>
<polyline stroke="#6cc8c8" points="45.20,292.10 45.95,287.98 46.70,284.07 47.45,280.42 48.20,277.04 48.95,273.98 49.70,271.26 50.45,268.92 51.20,266.99 51.95,265.50 52.70,264.48 53.45,263.96 54.20,263.95 54.95,264.30 55.70,264.88 56.45,265.60 57.20,266.35 57.95,267.05 58.70,267.59 59.45,267.88 60.20,267.56 60.95,266.44 61.70,265.91 62.45,266.47 63.20,267.76 63.95,269.59 64.70,271.76 65.45,274.07 66.20,276.33 66.95,278.34 67.70,279.91 68.45,280.83 69.20,280.99 69.95,280.84 70.70,280.55 71.45,280.14 72.20,279.63 72.95,279.04 73.70,278.40 74.45,277.72 75.20,277.03 75.95,276.36 76.70,275.72 77.45,275.14 78.20,274.63 78.95,274.23 79.70,273.95 80.45,273.81 81.20,273.88 81.95,274.27 82.70,274.91 83.45,275.72 84.20,276.63 84.95,277.54 85.70,278.38 86.45,279.08 87.20,279.54 87.95,279.70 88.70,279.54 89.45,279.14 90.20,278.53 90.95,277.76 91.70,276.85 92.45,275.85 93.20,274.80 93.95,273.74 94.70,272.71 95.45,271.74 96.20,270.87 96.95,270.14 97.70,269.60 98.45,269.27 99.20,269.21 99.95,269.51 100.70,270.12 101.45,271.01 102.20,272.10 102.95,273.34 103.70,274.65 104.45,275.99 105.20,277.29 105.95,278.48 106.70,279.51 107.45,280.31 108.20,280.83 108.95,281.00 109.70,280.87 110.45,280.53 111.20,280.01 111.95,279.36 112.70,278.61 113.45,277.79 114.20,276.94 114.95,276.09 115.70,275.28 116.45,274.55 117.20,273.94 117.95,273.46 118.70,273.18 119.45,273.10 120.20,273.21 120.95,273.45 121.70,273.80 122.45,274.24 123.20,274.75 123.95,275.30 124.70,275.86 125.45,276.42 126.20,276.96 126.95,277.44 127.70,277.85 128.45,278.16 129.20,278.35 129.95,278.39 130.70,278.10 131.45,277.45 132.20,276.54 132.95,275.43 133.70,274.22 134.45,272.97 135.20,271.78 135.95,270.73 136.70,269.90 137.45,269.36 138.20,269.20 138.95,269.32 139.70,269.61 140.45,270.04 141.20,270.57 141.95,271.19 142.70,271.85 143.45,272.53 144.20,273.21 144.95,273.84 145.70,274.58 146.45,275.49 147.20,276.48 147.95,277.48 148.70,278.38 149.45,279.11 150.20,279.57 150.95,279.69 151.70,279.39 152.45,278.74 153.20,277.83 153.95,276.77 154.70,275.65 155.45,274.57 156.20,273.62 156.95,272.91 157.70,272.54 158.45,272.53 159.20,272.72 159.95,273.06 160.70,273.52 161.45,274.09 162.20,274.73 162.95,275.44 163.70,276.19 164.45,276.95 165.20,277.71 165.95,278.44 166.70,279.12 167.45,279.73 168.20,280.24 168.95,280.64 169.70,280.90 170.45,281.00 171.20,280.72 171.95,279.86 172.70,278.51 173.45,276.76 174.20,274.70 174.95,272.41 175.70,270.00 176.45,267.54 177.20,265.13 177.95,262.85 178.70,260.81 179.45,259.08 180.20,257.76 180.95,256.94 181.70,256.71 182.45,257.22 183.20,258.44 183.95,260.24 184.70,262.50 185.45,265.07 186.20,267.83 186.95,270.66 187.70,273.41 188.45,275.97 189.20,278.19 189.95,279.96 190.70,281.14 191.45,281.60 192.20,281.27 192.95,280.30 193.70,278.90 194.45,277.30 195.20,275.70 195.95,274.30 196.70,273.33 197.45,273.00 198.20,273.38 198.95,274.29 199.70,275.58 200.45,277.09 201.20,278.63 201.95,280.06 202.70,281.19 203.45,281.88 204.20,281.93 204.95,281.23 205.70,279.85 206.45,277.91 207.20,275.55 207.95,272.87 208.70,270.01 209.45,267.08 210.20,264.21 210.95,261.52 211.70,259.13 212.45,257.17 213.20,255.75 213.95,254.99 214.70,255.07 215.45,256.18 216.20,258.15 216.95,260.73 217.70,263.69 218.45,266.79 219.20,269.80 219.95,272.47 220.70,274.58 221.45,275.89 222.20,276.20 222.95,276.16 223.70,276.08 224.45,275.97 225.20,275.84 225.95,275.71 226.70,275.57 227.45,275.44 228.20,275.32 228.95,275.19 229.70,275.04 230.45,274.88 231.20,274.72 231.95,274.55 232.70,274.40 233.45,274.25 234.20,274.11 234.95,274.00 235.70,273.90 236.45,273.84 237.20,273.80 237.95,273.82 238.70,273.95 239.45,274.18 240.20,274.47 240.95,274.81 241.70,275.18 242.45,275.54 243.20,275.87 243.95,276.15 244.70,276.39 245.45,276.65 246.20,276.92 246.95,277.19 247.70,277.45 248.45,277.70 249.20,277.92 249.95,278.11 250.70,278.26 251.45,278.36 252.20,278.40 252.95,277.98 253.70,276.56 254.45,274.29 255.20,271.38 255.95,267.98 256.70,264.29 257.45,260.48 258.20,256.72 258.95,253.21 259.70,250.11 260.45,247.61 261.20,245.89 261.95,245.12 262.70,245.86 263.45,248.66 264.20,252.95 264.95,258.17 265.70,263.73 266.45,269.06 267.20,273.59 267.95,276.73 268.70,277.90 269.45,277.43 270.20,276.24 270.95,274.65 271.70,272.98 272.45,271.53 273.20,270.64 273.95,270.57 274.70,271.17 275.45,272.22 276.20,273.59 276.95,275.10 277.70,276.60 278.45,277.94 279.20,278.94 279.95,279.46 280.70,279.46 281.45,279.25 282.20,278.90 282.95,278.42 283.70,277.84 284.45,277.18 285.20,276.48 285.95,275.75 286.70,275.03 287.45,274.33 288.20,273.68 288.95,273.11 289.70,272.65 290.45,272.31 291.20,272.13 291.95,272.13 292.70,272.39 293.45,272.87 294.20,273.49 294.95,274.20 295.70,274.95 296.45,275.66 297.20,276.27 297.95,276.73 298.70,276.98 299.45,277.00 300.20,276.98 300.95,276.96 301.70,276.92 302.45,276.88 303.20,276.83 303.95,276.77 304.70,276.71 305.45,276.59 306.20,276.36 306.95,276.02 307.70,275.60 308.45,275.14 309.20,274.63 309.95,274.12 310.70,273.62 311.45,273.16 312.20,272.75 312.95,272.43 313.70,272.20 314.45,272.10 315.20,272.18 315.95,272.46 316.70,272.90 317.45,273.42 318.20,273.99 318.95,274.52 319.70,274.98 320.45,275.29 321.20,275.40 321.95,275.43 322.70,275.45 323.45,275.47 324.20,275.49 324.95,275.51 325.70,275.53 326.45,275.55 327.20,275.56 327.95,275.58 328.70,275.59 329.45,275.60 330.20,275.62 330.95,275.63 331.70,275.64 332.45,275.65 333.20,275.65 333.95,275.66 334.70,275.67 335.45,275.67 336.20,275.68 336.95,275.68 337.70,275.69 338.45,275.69 339.20,275.69 339.95,275.70 340.70,275.70 341.45,275.70 342.20,275.70 342.95,275.55 343.70,274.90 344.45,274.25 345.20,274.10 345.95,274.10 346.70,274.10 347.45,274.10 348.20,274.10 348.95,274.10 349.70,274.10 350.45,274.17 351.20,274.39 351.95,274.74 352.70,275.20 353.45,275.73 354.20,276.31 354.95,276.91 355.70,277.50 356.45,278.06 357.20,278.56 357.95,278.96 358.70,279.25 359.45,279.39 360.20,279.24 360.95,278.48 361.70,277.19 362.45,275.52 363.20,273.59 363.95,271.22 364.70,266.55 365.45,259.71 366.20,251.25 366.95,241.74 367.70,231.74 368.45,221.81 369.20,212.51 369.95,204.40 370.70,198.05 371.45,194.00 372.20,192.82 372.95,193.88 373.70,196.47 374.45,200.38 375.20,205.43 375.95,211.41 376.70,218.11 377.45,225.35 378.20,232.92 378.95,240.62 379.70,248.26 380.45,255.63 381.20,262.53 381.95,268.77 382.70,274.15 383.45,278.47 384.20,281.52 384.95,283.11 385.70,282.93 386.45,280.46 387.20,276.19 387.95,270.69 388.70,264.57 389.45,258.40 390.20,252.79 390.95,248.32 391.70,245.57 392.45,245.04 393.20,245.58 393.95,246.70 394.70,248.32 395.45,250.37 396.20,252.75 396.95,255.38 397.70,258.20 398.45,261.11 399.20,264.04 399.95,266.91 400.70,269.62 401.45,272.12 402.20,274.30 402.95,276.10 403.70,277.44 404.45,278.22 405.20,278.40 405.95,278.36 406.70,278.27 407.45,278.13 408.20,277.95 408.95,277.73 409.70,277.48 410.45,277.19 411.20,276.87 411.95,276.52 412.70,276.15 413.45,275.45 414.20,273.99 414.95,271.86 415.70,269.19 416.45,266.09 417.20,262.67 417.95,259.05 418.70,255.34 419.45,251.66 420.20,248.11 420.95,244.81 421.70,241.88 422.45,239.44 423.20,237.58 423.95,236.43 424.70,236.11 425.45,236.92 426.20,238.85 426.95,241.74 427.70,245.38 428.45,249.61 429.20,254.22 429.95,259.05 430.70,263.90 431.45,268.59 432.20,272.94 432.95,276.76 433.70,279.86 434.45,282.07 435.20,283.19 435.95,283.17 436.70,282.43 437.45,281.20 438.20,279.63 438.95,277.90 439.70,276.17 440.45,274.60 441.20,273.37 441.95,272.63 442.70,272.52 443.45,272.68 444.20,272.94 444.95,273.22 445.70,273.44 446.45,273.46 447.20,272.03 447.95,268.96 448.70,264.72 449.45,259.80 450.20,254.69 450.95,249.86 451.70,245.82 452.45,243.04 453.20,242.00 453.95,243.27 454.70,246.66 455.45,251.54 456.20,257.26 456.95,263.20 457.70,268.71 458.45,273.16 459.20,275.92 459.95,276.41 460.70,275.19 461.45,272.79 462.20,269.55 462.95,265.80 463.70,261.86 464.45,258.09 465.20,254.80 465.95,252.34 466.70,251.03 467.45,251.23 468.20,253.05 468.95,256.13 469.70,260.07 470.45,264.48 471.20,268.94 471.95,273.08 472.70,276.48 473.45,278.75 474.20,279.63 474.95,280.17 475.70,280.66 476.45,281.08 477.20,281.43 477.95,281.70 478.70,281.89 479.45,281.99 480.20,281.92 480.95,281.37 481.70,280.40 482.45,279.09 483.20,277.54 483.95,275.87 484.70,274.16 485.45,272.52 486.20,271.05 486.95,269.84 487.70,268.99 488.45,268.61 489.20,268.72 489.95,269.19 490.70,269.93 491.45,270.88 492.20,271.97 492.95,273.13 493.70,274.28 494.45,275.35 495.20,276.28 495.95,276.99 496.70,277.41 497.45,277.48 498.20,277.20 498.95,276.64 499.70,275.87 500.45,274.95 501.20,273.94 501.95,272.91 502.70,271.93 503.45,271.05 504.20,270.34 504.95,269.87 505.70,269.70 506.45,269.94 507.20,270.60 507.95,271.58 508.70,272.81 509.45,274.19 510.20,275.64 510.95,277.06 511.70,278.37 512.45,279.48 513.20,280.30 513.95,280.75 514.70,280.75 515.45,280.43 516.20,279.85 516.95,279.09 517.70,278.21 518.45,277.27 519.20,276.35 519.95,275.51 520.70,274.81 521.45,274.32 522.20,273.98 522.95,273.65 523.70,273.33 524.45,273.04 525.20,272.78 525.95,272.57 526.70,272.41 527.45,272.32 528.20,272.32 528.95,272.70 529.70,273.49 530.45,274.54 531.20,275.74 531.95,276.95 532.70,278.05 533.45,278.92 534.20,279.42 534.95,279.40 535.70,278.52 536.45,276.85 537.20,274.52 537.95,271.62 538.70,268.30 539.45,264.67 540.20,260.84 540.95,256.94 541.70,253.09 542.45,249.40 543.20,246.01 543.95,243.02 544.70,240.56 545.45,238.75 546.20,237.71 546.95,237.64 547.70,239.58 548.45,243.42 549.20,248.65 549.95,254.76 550.70,261.24 551.45,267.58 552.20,273.28 552.95,277.83 553.70,280.72 554.45,281.46 555.20,280.13 555.95,277.28 556.70,273.39 557.45,268.96 558.20,264.46 558.95,260.38 559.70,257.20 560.45,255.42 561.20,255.37 561.95,256.52 562.70,258.55 563.45,261.23 564.20,264.31 564.95,267.57 565.70,270.77 566.45,273.67 567.20,276.03 567.95,277.62 568.70,278.20 569.45,278.13 570.20,277.93 570.95,277.64 571.70,277.28 572.45,276.90 573.20,276.52 573.95,276.18 574.70,275.78 575.45,275.32 576.20,274.86 576.95,274.50 577.70,274.31 578.45,274.30 579.20,274.30 579.95,274.30 580.70,274.30 581.45,274.30 582.20,274.30 582.95,274.30 583.70,274.30 584.45,274.30 585.20,274.30 585.95,274.30 586.70,274.30 587.45,274.30 588.20,274.30 588.95,274.30 589.70,274.30 590.45,274.32 591.20,274.85 591.95,275.49 592.70,275.60 593.45,275.60 594.20,275.60 594.95,275.60 595.70,275.60 596.45,275.60 597.20,275.60 597.95,275.60 598.70,275.60 599.45,275.60 600.20,275.60 600.95,275.60 601.70,275.60 602.45,275.60 603.20,275.60 603.95,275.60 604.70,275.60 605.45,275.60 606.20,274.95 606.95,273.74 607.70,272.81 608.45,272.91 609.20,273.91 609.95,275.05 610.70,275.60 611.45,275.60 612.20,275.60 612.95,275.60 613.70,275.60 614.45,275.60 615.20,275.60 615.95,275.60 616.70,275.60 617.45,275.60 618.20,275.60 618.95,275.60 619.70,275.60 620.45,275.60 621.20,275.60 621.95,275.60 622.70,275.60 623.45,275.60 624.20,275.60 624.95,275.60 625.70,275.60 626.45,275.60 627.20,275.60 627.95,275.45 628.70,274.22 629.45,274.35 630.20,275.43 630.95,275.60 631.70,275.60 632.45,275.60 633.20,275.60 633.95,275.60 634.70,275.60 635.45,275.60 636.20,275.60 636.95,275.60 637.70,275.60 638.45,275.60 639.20,275.60 639.50,275.60"/>
<polyline stroke="#693c3c" points="45.50,181.50 46.25,176.95 47.00,172.69 47.75,168.74 48.50,165.12 49.25,161.85 50.00,158.96 50.75,156.47 51.50,154.40 52.25,152.76 53.00,151.59 53.75,150.89 54.50,150.71 55.25,151.05 56.00,151.79 56.75,152.75 57.50,153.74 58.25,154.60 59.00,155.12 59.75,155.11 60.50,154.47 61.25,153.68 62.00,153.30 62.75,153.76 63.50,155.01 64.25,156.84 65.00,159.07 65.75,161.50 66.50,163.93 67.25,166.16 68.00,167.99 68.75,169.24 69.50,169.70 70.25,169.50 71.00,168.97 71.75,168.22 72.50,167.36 73.25,166.48 74.00,165.70 74.75,165.13 75.50,164.71 76.25,164.28 77.00,163.87 77.75,163.49 78.50,163.15 79.25,162.87 80.00,162.66 80.75,162.53 81.50,162.52 82.25,162.83 83.00,163.47 83.75,164.34 84.50,165.32 85.25,166.31 86.00,167.21 86.75,167.93 87.50,168.34 88.25,168.35 89.00,167.96 89.75,167.23 90.50,166.23 91.25,165.02 92.00,163.67 92.75,162.25 93.50,160.82 94.25,159.46 95.00,158.22 95.75,157.19 96.50,156.42 97.25,155.98 98.00,155.93 98.75,156.24 99.50,156.85 100.25,157.72 101.00,158.79 101.75,160.01 102.50,161.33 103.25,162.71 104.00,164.09 104.75,165.42 105.50,166.66 106.25,167.75 107.00,168.64 107.75,169.29 108.50,169.65 109.25,169.67 110.00,169.39 110.75,168.87 111.50,168.15 112.25,167.28 113.00,166.30 113.75,165.25 114.50,164.18 115.25,163.13 116.00,162.16 116.75,161.29 117.50,160.59 118.25,160.08 119.00,159.82 119.75,159.84 120.50,160.09 121.25,160.53 122.00,161.11 122.75,161.81 123.50,162.59 124.25,163.40 125.00,164.21 125.75,164.99 126.50,165.69 127.25,166.27 128.00,166.71 128.75,166.96 129.50,166.97 130.25,166.65 131.00,166.01 131.75,165.14 132.50,164.07 133.25,162.88 134.00,161.62 134.75,160.35 135.50,159.14 136.25,158.03 137.00,157.10 137.75,156.40 138.50,155.98 139.25,155.92 140.00,156.15 140.75,156.64 141.50,157.35 142.25,158.22 143.00,159.24 143.75,160.35 144.50,161.52 145.25,162.71 146.00,163.88 146.75,164.99 147.50,166.01 148.25,166.90 149.00,167.62 149.75,168.12 150.50,168.38 151.25,168.30 152.00,167.76 152.75,166.85 153.50,165.68 154.25,164.37 155.00,163.03 155.75,161.79 156.50,160.76 157.25,160.06 158.00,159.80 158.75,159.97 159.50,160.45 160.25,161.14 161.00,161.96 161.75,162.85 162.50,163.73 163.25,164.50 164.00,165.10 164.75,165.60 165.50,166.12 166.25,166.63 167.00,167.12 167.75,167.56 168.50,167.93 169.25,168.21 170.00,168.37 170.75,168.35 171.50,167.65 172.25,166.21 173.00,164.16 173.75,161.61 174.50,158.69 175.25,155.52 176.00,152.22 176.75,148.91 177.50,145.72 178.25,142.76 179.00,140.16 179.75,138.03 180.50,136.50 181.25,135.70 182.00,135.76 182.75,136.87 183.50,138.89 184.25,141.62 185.00,144.90 185.75,148.55 186.50,152.39 187.25,156.24 188.00,159.93 188.75,163.27 189.50,166.09 190.25,168.21 191.00,169.45 191.75,169.65 192.50,168.93 193.25,167.59 194.00,165.86 194.75,164.02 195.50,162.31 196.25,161.00 197.00,160.33 197.75,160.46 198.50,161.11 199.25,162.17 200.00,163.52 200.75,165.05 201.50,166.64 202.25,168.18 203.00,169.55 203.75,170.63 204.50,171.32 205.25,171.47 206.00,170.55 206.75,168.49 207.50,165.53 208.25,161.89 209.00,157.81 209.75,153.51 210.50,149.23 211.25,145.19 212.00,141.63 212.75,138.78 213.50,136.86 214.25,136.10 215.00,136.68 215.75,138.43 216.50,141.11 217.25,144.46 218.00,148.24 218.75,152.21 219.50,156.11 220.25,159.70 221.00,162.72 221.75,164.94 222.50,166.09 223.25,166.08 224.00,165.48 224.75,164.60 225.50,163.72 226.25,163.12 227.00,163.00 227.75,163.00 228.50,163.00 229.25,163.00 230.00,163.00 230.75,163.00 231.50,163.00 232.25,163.00 233.00,163.00 233.75,163.00 234.50,163.00 235.25,163.00 236.00,163.00 236.75,163.00 237.50,163.00 238.25,163.00 239.00,163.01 239.75,163.07 240.50,163.17 241.25,163.30 242.00,163.46 242.75,163.65 243.50,163.85 244.25,164.06 245.00,164.27 245.75,164.54 246.50,164.92 247.25,165.39 248.00,165.89 248.75,166.39 249.50,166.84 250.25,167.21 251.00,167.44 251.75,167.47 252.50,166.56 253.25,164.50 254.00,161.50 254.75,157.74 255.50,153.43 256.25,148.76 257.00,143.93 257.75,139.15 258.50,134.60 259.25,130.48 260.00,127.00 260.75,124.35 261.50,122.73 262.25,122.37 263.00,124.56 263.75,129.27 264.50,135.70 265.25,143.08 266.00,150.61 266.75,157.52 267.50,163.01 268.25,166.31 269.00,166.77 269.75,165.51 270.50,163.33 271.25,160.80 272.00,158.44 272.75,156.81 273.50,156.43 274.25,157.08 275.00,158.40 275.75,160.17 276.50,162.16 277.25,164.18 278.00,165.99 278.75,167.38 279.50,168.13 280.25,168.17 281.00,168.00 281.75,167.68 282.50,167.25 283.25,166.73 284.00,166.12 284.75,165.46 285.50,164.77 286.25,164.06 287.00,163.36 287.75,162.68 288.50,162.05 289.25,161.48 290.00,161.00 290.75,160.63 291.50,160.39 292.25,160.30 293.00,160.40 293.75,160.71 294.50,161.18 295.25,161.77 296.00,162.44 296.75,163.14 297.50,163.82 298.25,164.46 299.00,164.99 299.75,165.38 300.50,165.58 301.25,165.60 302.00,165.60 302.75,165.60 303.50,165.60 304.25,165.60 305.00,165.60 305.75,165.58 306.50,165.39 307.25,165.04 308.00,164.57 308.75,164.00 309.50,163.38 310.25,162.73 311.00,162.10 311.75,161.51 312.50,161.00 313.25,160.61 314.00,160.36 314.75,160.30 315.50,160.44 316.25,160.75 317.00,161.18 317.75,161.70 318.50,162.26 319.25,162.83 320.00,163.35 320.75,163.80 321.50,164.12 322.25,164.29 323.00,164.30 323.75,164.30 324.50,164.30 325.25,164.30 326.00,164.30 326.75,164.30 327.50,164.30 328.25,164.30 329.00,164.30 329.75,164.30 330.50,164.29 331.25,164.13 332.00,163.84 332.75,163.50 333.50,163.19 334.25,163.01 335.00,162.93 335.75,162.86 336.50,162.81 337.25,162.77 338.00,162.73 338.75,162.70 339.50,162.67 340.25,162.65 341.00,162.63 341.75,162.60 342.50,162.57 343.25,162.53 344.00,162.48 344.75,162.42 345.50,162.35 346.25,162.26 347.00,162.00 347.75,161.68 348.50,161.44 349.25,161.42 350.00,161.60 350.75,161.94 351.50,162.41 352.25,162.98 353.00,163.63 353.75,164.32 354.50,165.04 355.25,165.75 356.00,166.43 356.75,167.04 357.50,167.56 358.25,167.96 359.00,168.22 359.75,168.30 360.50,167.84 361.25,166.69 362.00,165.01 362.75,162.96 363.50,160.71 364.25,157.43 365.00,151.85 365.75,144.46 366.50,135.73 367.25,126.18 368.00,116.29 368.75,106.57 369.50,97.50 370.25,89.58 371.00,83.31 371.75,79.19 372.50,77.70 373.25,78.58 374.00,81.08 374.75,85.00 375.50,90.12 376.25,96.25 377.00,103.16 377.75,110.66 378.50,118.52 379.25,126.56 380.00,134.55 380.75,142.30 381.50,149.59 382.25,156.21 383.00,161.96 383.75,166.62 384.50,170.00 385.25,171.88 386.00,171.97 386.75,169.64 387.50,165.26 388.25,159.46 389.00,152.83 389.75,146.01 390.50,139.59 391.25,134.19 392.00,130.43 392.75,128.91 393.50,129.26 394.25,130.36 395.00,132.11 395.75,134.40 396.50,137.13 397.25,140.20 398.00,143.49 398.75,146.91 399.50,150.35 400.25,153.71 401.00,156.88 401.75,159.75 402.50,162.23 403.25,164.21 404.00,165.59 404.75,166.25 405.50,166.29 406.25,166.24 407.00,166.15 407.75,166.01 408.50,165.84 409.25,165.64 410.00,165.41 410.75,165.14 411.50,164.86 412.25,164.54 413.00,164.18 413.75,163.14 414.50,161.29 415.25,158.75 416.00,155.65 416.75,152.09 417.50,148.21 418.25,144.13 419.00,139.96 419.75,135.82 420.50,131.85 421.25,128.15 422.00,124.86 422.75,122.08 423.50,119.95 424.25,118.58 425.00,118.10 425.75,118.77 426.50,120.67 427.25,123.60 428.00,127.39 428.75,131.86 429.50,136.81 430.25,142.07 431.00,147.45 431.75,152.76 432.50,157.84 433.25,162.49 434.00,166.52 434.75,169.76 435.50,172.02 436.25,173.12 437.00,172.97 437.75,171.91 438.50,170.21 439.25,168.15 440.00,165.97 440.75,163.96 441.50,162.37 442.25,161.47 443.00,161.22 443.75,161.06 444.50,160.96 445.25,160.86 446.00,160.75 446.75,160.58 447.50,160.22 448.25,157.89 449.00,153.53 449.75,147.92 450.50,141.83 451.25,136.04 452.00,131.31 452.75,128.43 453.50,128.10 454.25,130.17 455.00,134.04 455.75,139.14 456.50,144.91 457.25,150.80 458.00,156.24 458.75,160.67 459.50,163.52 460.25,164.26 461.00,163.02 461.75,160.33 462.50,156.63 463.25,152.34 464.00,147.88 464.75,143.67 465.50,140.13 466.25,137.70 467.00,136.80 467.75,137.75 468.50,140.30 469.25,144.03 470.00,148.51 470.75,153.31 471.50,158.00 472.25,162.16 473.00,165.35 473.75,167.15 474.50,167.75 475.25,168.27 476.00,168.74 476.75,169.15 477.50,169.50 478.25,169.78 479.00,169.99 479.75,170.13 480.50,170.20 481.25,170.05 482.00,169.41 482.75,168.35 483.50,166.99 484.25,165.40 485.00,163.70 485.75,161.97 486.50,160.33 487.25,158.86 488.00,157.67 488.75,156.85 489.50,156.51 490.25,156.70 491.00,157.37 491.75,158.39 492.50,159.66 493.25,161.06 494.00,162.49 494.75,163.83 495.50,164.96 496.25,165.78 497.00,166.18 497.75,166.11 498.50,165.70 499.25,165.03 500.00,164.16 500.75,163.15 501.50,162.05 502.25,160.93 503.00,159.84 503.75,158.85 504.50,158.02 505.25,157.40 506.00,157.05 506.75,157.06 507.50,157.52 508.25,158.39 509.00,159.57 509.75,160.98 510.50,162.53 511.25,164.14 512.00,165.72 512.75,167.18 513.50,168.45 514.25,169.43 515.00,170.04 515.75,170.19 516.50,169.85 517.25,169.11 518.00,168.08 518.75,166.88 519.50,165.61 520.25,164.39 521.00,163.33 521.75,162.54 522.50,162.07 523.25,161.66 524.00,161.27 524.75,160.93 525.50,160.64 526.25,160.43 527.00,160.32 527.75,160.34 528.50,160.69 529.25,161.34 530.00,162.22 530.75,163.25 531.50,164.37 532.25,165.50 533.00,166.58 533.75,167.53 534.50,168.28 535.25,168.76 536.00,168.89 536.75,168.32 537.50,166.96 538.25,165.00 539.00,162.61 539.75,159.96 540.50,157.23 541.25,154.55 542.00,151.04 542.75,146.54 543.50,141.50 544.25,136.33 545.00,131.47 545.75,127.35 546.50,124.40 547.25,123.04 548.00,124.05 548.75,127.90 549.50,133.88 550.25,141.21 551.00,149.15 551.75,156.94 552.50,163.82 553.25,169.04 554.00,171.83 554.75,171.70 555.50,169.45 556.25,165.73 557.00,161.06 557.75,155.99 558.50,151.07 559.25,146.83 560.00,143.83 560.75,142.61 561.50,143.28 562.25,145.30 563.00,148.31 563.75,151.97 564.50,155.93 565.25,159.85 566.00,163.37 566.75,166.15 567.50,167.85 568.25,168.19 569.00,168.03 569.75,167.71 570.50,167.28 571.25,166.76 572.00,166.21 572.75,165.66 573.50,165.14 574.25,164.69 575.00,164.17 575.75,163.60 576.50,163.01 577.25,162.44 578.00,161.92 578.75,161.48 579.50,161.17 580.25,161.01 581.00,161.00 581.75,161.03 582.50,161.08 583.25,161.15 584.00,161.25 584.75,161.39 585.50,161.55 586.25,162.26 587.00,163.20 587.75,163.20 588.50,163.20 589.25,163.20 590.00,163.20 590.75,163.20 591.50,163.20 592.25,163.20 593.00,163.20 593.75,163.20 594.50,163.20 595.25,163.20 596.00,163.20 596.75,163.20 597.50,163.20 598.25,163.20 599.00,163.20 599.75,163.20 600.50,163.20 601.25,163.20 602.00,163.20 602.75,163.20 603.50,163.20 604.25,163.20 605.00,163.20 605.75,163.09 606.50,162.35 607.25,161.44 608.00,161.00 608.75,161.70 609.50,162.86 610.25,163.20 611.00,163.20 611.75,163.20 612.50,163.20 613.25,163.20 614.00,163.20 614.75,163.20 615.50,163.20 616.25,163.20 617.00,163.20 617.75,163.20 618.50,163.20 619.25,163.20 620.00,163.20 620.75,163.20 621.50,163.20 622.25,163.20 623.00,163.20 623.75,163.20 624.50,163.20 625.25,163.20 626.00,163.20 626.75,163.20 627.50,163.20 628.25,163.20 629.00,163.20 629.75,163.20 630.50,163.20 631.25,163.20 632.00,163.20 632.75,163.20 633.50,163.20 634.25,163.20 635.00,163.20 635.75,163.20 636.50,163.20 637.25,163.20 638.00,163.20 638.75,163.20 639.50,163.20"/>
</g>
<g stroke="#000" stroke-width="2" fill="none" stroke-linecap="butt">
<path d="M45.1,50.5 H639.8 V528.7 H45.1 Z"/>
<path d="M45.1,50.7H36.9 M45.1,78.8H40.5 M45.1,107.0H36.9 M45.1,135.1H40.5 M45.1,163.3H36.9 M45.1,191.4H40.5 M45.1,219.5H36.9 M45.1,247.7H40.5 M45.1,275.8H36.9 M45.1,304.0H40.5 M45.1,332.1H36.9 M45.1,360.2H40.5 M45.1,388.4H36.9 M45.1,416.5H40.5 M45.1,444.7H36.9 M45.1,472.8H40.5 M45.1,500.9H36.9 M45.1,529.1H40.5 M45.1,528.7V537.7 M87.6,528.7V533.2 M130.1,528.7V537.7 M172.5,528.7V533.2 M215.0,528.7V537.7 M257.5,528.7V533.2 M300.0,528.7V537.7 M342.4,528.7V533.2 M384.9,528.7V537.7 M427.4,528.7V533.2 M469.9,528.7V537.7 M512.4,528.7V533.2 M554.8,528.7V537.7 M597.3,528.7V533.2 M639.8,528.7V537.7"/>
</g>
<line x1="639" y1="52.4" x2="848" y2="52.4" stroke="#cfcfcf" stroke-width="2"/>
<rect x="640" y="54.2" width="207" height="264.8" fill="#fff" stroke="#5c5c5c" stroke-width="2"/>
<line x1="644" y1="72.3" x2="700.5" y2="72.3" stroke="#693c3c" stroke-width="3.3" stroke-linecap="round"/>
<line x1="644" y1="104.9" x2="700.5" y2="104.9" stroke="#6cc8c8" stroke-width="3.3" stroke-linecap="round"/>
<line x1="644" y1="137.5" x2="700.5" y2="137.5" stroke="#c0931f" stroke-width="3.3" stroke-linecap="round"/>
<line x1="644" y1="170.1" x2="700.5" y2="170.1" stroke="#9a68dc" stroke-width="3.3" stroke-linecap="round"/>
<line x1="644" y1="202.7" x2="700.5" y2="202.7" stroke="#5ca55c" stroke-width="3.3" stroke-linecap="round"/>
<line x1="644" y1="235.3" x2="700.5" y2="235.3" stroke="#3462dc" stroke-width="3.3" stroke-linecap="round"/>
<line x1="644" y1="267.9" x2="700.5" y2="267.9" stroke="#d0333a" stroke-width="3.3" stroke-linecap="round"/>
<line x1="644" y1="300.5" x2="700.5" y2="300.5" stroke="#424242" stroke-width="3.3" stroke-linecap="round"/>
<g transform="matrix(1.0264 0 0 0.9833 399.56 -213.32)" style="stroke-width:0.4px"><text x="300" y="300" font-size="25.5" >50 pg/mL</text></g>
<g transform="matrix(1.0264 0 0 0.9833 399.56 -180.72)" style="stroke-width:0.4px"><text x="300" y="300" font-size="25.5" >10 pg/mL</text></g>
<g transform="matrix(1.0264 0 0 0.9833 399.56 -148.12)" style="stroke-width:0.4px"><text x="300" y="300" font-size="25.5" >5 pg/mL</text></g>
<g transform="matrix(1.0264 0 0 0.9833 399.56 -115.52)" style="stroke-width:0.4px"><text x="300" y="300" font-size="25.5" >1 pg/mL</text></g>
<g transform="matrix(1.0264 0 0 0.9833 399.56 -82.92)" style="stroke-width:0.4px"><text x="300" y="300" font-size="25.5" >0.5 pg/mL</text></g>
<g transform="matrix(1.0264 0 0 0.9833 399.56 -50.32)" style="stroke-width:0.4px"><text x="300" y="300" font-size="25.5" >0.1 pg/mL</text></g>
<g transform="matrix(1.0264 0 0 0.9833 399.56 -17.72)" style="stroke-width:0.4px"><text x="300" y="300" font-size="25.5" >0.05 pg/mL</text></g>
<g transform="matrix(1.0264 0 0 0.9833 399.56 14.88)" style="stroke-width:0.4px"><text x="300" y="300" font-size="25.5" >0 pg/mL</text></g>
<g stroke="#000" stroke-width="2" fill="none">
<path d="M988.7,55.7 H1572.0 V524.4 H988.7 Z"/>
<path d="M988.7,524.4H979.5 M988.7,490.9H984.0 M988.7,457.4H979.5 M988.7,424.0H984.0 M988.7,390.5H979.5 M988.7,357.0H984.0 M988.7,323.5H979.5 M988.7,290.0H984.0 M988.7,256.6H979.5 M988.7,223.1H984.0 M988.7,189.6H979.5 M988.7,156.1H984.0 M988.7,122.7H979.5 M988.7,89.2H984.0 M988.7,55.7H979.5 M988.7,524.4V528.9 M1002.7,524.4V528.9 M1014.5,524.4V528.9 M1024.8,524.4V528.9 M1033.8,524.4V528.9 M1041.9,524.4V533.9 M1095.1,524.4V528.9 M1126.2,524.4V528.9 M1148.3,524.4V528.9 M1165.4,524.4V528.9 M1179.4,524.4V528.9 M1191.2,524.4V528.9 M1201.5,524.4V528.9 M1210.5,524.4V528.9 M1218.6,524.4V533.9 M1271.8,524.4V528.9 M1302.9,524.4V528.9 M1325.0,524.4V528.9 M1342.1,524.4V528.9 M1356.1,524.4V528.9 M1367.9,524.4V528.9 M1378.2,524.4V528.9 M1387.2,524.4V528.9 M1395.3,524.4V533.9 M1448.5,524.4V528.9 M1479.6,524.4V528.9 M1501.7,524.4V528.9 M1518.8,524.4V528.9 M1532.8,524.4V528.9 M1544.6,524.4V528.9 M1554.9,524.4V528.9 M1563.9,524.4V528.9 M1572.0,524.4V533.9"/>
</g>
<g fill="#000" stroke="none">
<rect x="1038.3" y="473.2" width="6.6" height="6.6"/>
<rect x="1036.4" y="472.9" width="10.4" height="2.2"/>
<rect x="1036.4" y="477.9" width="10.4" height="2.2"/>
<rect x="1040.6" y="474.0" width="2" height="5.0"/>
<rect x="1161.5" y="391.6" width="6.6" height="6.6"/>
<rect x="1159.6" y="391.4" width="10.4" height="2.2"/>
<rect x="1159.6" y="396.2" width="10.4" height="2.2"/>
<rect x="1163.8" y="392.5" width="2" height="4.8"/>
<rect x="1215.1" y="359.9" width="6.6" height="6.6"/>
<rect x="1213.2" y="359.7" width="10.4" height="2.2"/>
<rect x="1213.2" y="364.5" width="10.4" height="2.2"/>
<rect x="1217.4" y="360.8" width="2" height="4.8"/>
<rect x="1338.7" y="254.9" width="6.6" height="6.6"/>
<rect x="1336.8" y="252.0" width="10.4" height="2.2"/>
<rect x="1336.8" y="262.2" width="10.4" height="2.2"/>
<rect x="1341.0" y="253.1" width="2" height="10.2"/>
<rect x="1391.2" y="211.0" width="6.6" height="6.6"/>
<rect x="1389.3" y="209.6" width="10.4" height="2.2"/>
<rect x="1389.3" y="216.8" width="10.4" height="2.2"/>
<rect x="1393.5" y="210.7" width="2" height="7.2"/>
<rect x="1515.0" y="110.5" width="6.6" height="6.6"/>
<rect x="1513.1" y="110.2" width="10.4" height="2.2"/>
<rect x="1513.1" y="115.2" width="10.4" height="2.2"/>
<rect x="1517.3" y="111.3" width="2" height="5.0"/>
</g>
<line x1="1041.7" y1="477.9" x2="1517.1" y2="129.6" stroke="#e01b1b" stroke-width="1.4"/>
<g transform="matrix(1.0536 0 0 1.0448 -314.12 -280.65)" style="stroke-width:0.3px"><text x="300" y="300" font-size="42" >A</text></g>
<g transform="matrix(1.0120 0 0 1.0429 559.06 -280.26)" style="stroke-width:0.3px"><text x="300" y="300" font-size="41" >B</text></g>
<g transform="matrix(1.0179 0 0 0.9964 -118.90 297.20)" style="stroke-width:1.8px"><text x="300" y="300" font-size="27.2" letter-spacing="0.4">Raman shift  (cm</text></g>
<g transform="matrix(0.6471 0 0 0.7400 223.28 363.28)" style="stroke-width:1.8px"><text x="300" y="300" font-size="29" >−</text></g>
<g transform="matrix(0.7933 0 0 1.0455 188.41 272.02)" style="stroke-width:1.8px"><text x="300" y="300" font-size="29" >1</text></g>
<g transform="matrix(0.9000 0 0 0.9567 174.50 309.40)" style="stroke-width:1.8px"><text x="300" y="300" font-size="29" >)</text></g>
<g transform="matrix(1.0161 0 0 1.0103 -277.85 -155.83)" style="stroke-width:1.0px"><text x="0" y="0" font-size="33" transform="translate(300,560) rotate(-90) scale(0.75,1)" letter-spacing="4.2">Raman Intensity</text></g>
<g transform="matrix(1.0258 0 0 1.0115 588.48 -162.65)" style="stroke-width:1.0px"><text x="0" y="0" font-size="33" transform="translate(300,560) rotate(-90) scale(0.75,1)" letter-spacing="4.2">Raman Intensity</text></g>
<g transform="matrix(1.0000 0 0 0.9929 751.80 301.89)" style="stroke-width:1.8px"><text x="300" y="300" font-size="27" letter-spacing="1.9">Concentration of IL-5  (pg/mL)</text></g>
<g transform="matrix(0.9818 0 0 0.9550 -270.06 273.94)" style="stroke-width:1.8px"><text x="300" y="300" font-size="25.5" >400</text></g>
<g transform="matrix(0.9818 0 0 0.9550 -185.11 273.94)" style="stroke-width:1.8px"><text x="300" y="300" font-size="25.5" >600</text></g>
<g transform="matrix(0.9818 0 0 0.9550 -100.15 273.94)" style="stroke-width:1.8px"><text x="300" y="300" font-size="25.5" >800</text></g>
<g transform="matrix(0.9818 0 0 0.9550 -22.56 273.94)" style="stroke-width:1.8px"><text x="300" y="300" font-size="25.5" >1000</text></g>
<g transform="matrix(0.9818 0 0 0.9550 62.40 273.94)" style="stroke-width:1.8px"><text x="300" y="300" font-size="25.5" >1200</text></g>
<g transform="matrix(0.9818 0 0 0.9550 147.36 273.94)" style="stroke-width:1.8px"><text x="300" y="300" font-size="25.5" >1400</text></g>
<g transform="matrix(0.9818 0 0 0.9550 232.32 273.94)" style="stroke-width:1.8px"><text x="300" y="300" font-size="25.5" >1600</text></g>
<g transform="matrix(0.9818 0 0 0.9550 317.27 273.94)" style="stroke-width:1.8px"><text x="300" y="300" font-size="25.5" >1800</text></g>
<g transform="matrix(0.9776 0 0 0.9909 646.93 234.44)" style="stroke-width:1.8px"><text x="300" y="300" font-size="30" >0.0</text></g>
<g transform="matrix(0.9776 0 0 0.9909 628.35 167.48)" style="stroke-width:1.8px"><text x="300" y="300" font-size="30" >5.0k</text></g>
<g transform="matrix(0.9776 0 0 0.9909 612.71 100.52)" style="stroke-width:1.8px"><text x="300" y="300" font-size="30" >10.0k</text></g>
<g transform="matrix(0.9776 0 0 0.9909 612.71 33.56)" style="stroke-width:1.8px"><text x="300" y="300" font-size="30" >15.0k</text></g>
<g transform="matrix(0.9776 0 0 0.9909 612.71 -33.39)" style="stroke-width:1.8px"><text x="300" y="300" font-size="30" >20.0k</text></g>
<g transform="matrix(0.9776 0 0 0.9909 612.71 -100.35)" style="stroke-width:1.8px"><text x="300" y="300" font-size="30" >25.0k</text></g>
<g transform="matrix(0.9776 0 0 0.9909 612.71 -167.31)" style="stroke-width:1.8px"><text x="300" y="300" font-size="30" >30.0k</text></g>
<g transform="matrix(0.9776 0 0 0.9909 612.71 -234.26)" style="stroke-width:1.8px"><text x="300" y="300" font-size="30" >35.0k</text></g>
<g transform="matrix(0.9563 0 0 0.9909 734.94 261.64)" style="stroke-width:1.8px"><text x="300" y="300" font-size="30" >0.1</text></g>
<g transform="matrix(0.9563 0 0 0.9909 923.11 261.64)" style="stroke-width:1.8px"><text x="300" y="300" font-size="30" >1</text></g>
<g transform="matrix(0.9563 0 0 0.9909 1092.17 261.64)" style="stroke-width:1.8px"><text x="300" y="300" font-size="30" >10</text></g>
<g transform="matrix(0.9563 0 0 0.9909 1260.74 261.64)" style="stroke-width:1.8px"><text x="300" y="300" font-size="30" >100</text></g>
</svg></body></html>
